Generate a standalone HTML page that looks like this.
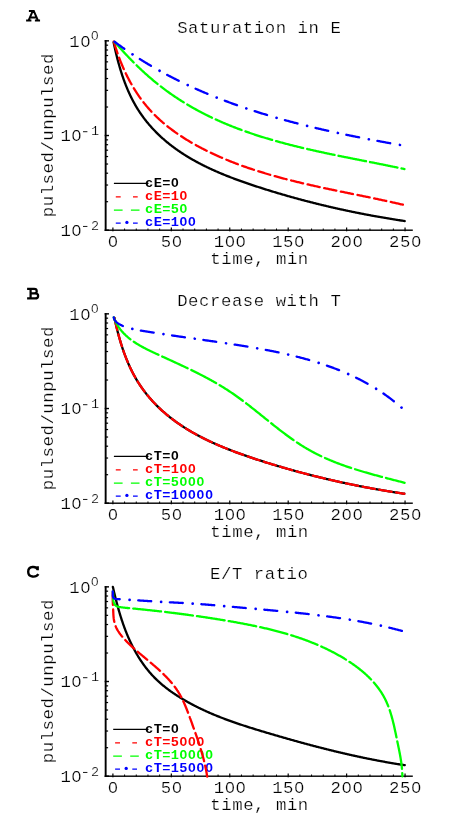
<!DOCTYPE html>
<html><head><meta charset="utf-8"><title>Figure</title>
<style>html,body{margin:0;padding:0;background:#fff;}svg{display:block;will-change:transform;}</style>
</head><body>
<svg width="463" height="834" viewBox="0 0 463 834" font-family="'Liberation Mono', monospace">
<rect width="463" height="834" fill="#fff"/>
<rect x="104.7" y="40.10" width="1.9" height="190.80" fill="#000"/>
<rect x="104.8" y="229.50" width="308.00" height="1.4" fill="#000"/>
<rect x="104.7" y="40.15" width="4.3" height="1.4" fill="#000"/>
<rect x="105" y="106.42" width="3.1" height="1.2" fill="#000"/>
<rect x="105" y="89.75" width="3.1" height="1.2" fill="#000"/>
<rect x="105" y="77.92" width="3.1" height="1.2" fill="#000"/>
<rect x="105" y="68.75" width="3.1" height="1.2" fill="#000"/>
<rect x="105" y="61.25" width="3.1" height="1.2" fill="#000"/>
<rect x="105" y="54.92" width="3.1" height="1.2" fill="#000"/>
<rect x="105" y="49.42" width="3.1" height="1.2" fill="#000"/>
<rect x="105" y="44.58" width="3.1" height="1.2" fill="#000"/>
<rect x="104.7" y="134.83" width="4.3" height="1.4" fill="#000"/>
<rect x="105" y="201.10" width="3.1" height="1.2" fill="#000"/>
<rect x="105" y="184.43" width="3.1" height="1.2" fill="#000"/>
<rect x="105" y="172.60" width="3.1" height="1.2" fill="#000"/>
<rect x="105" y="163.43" width="3.1" height="1.2" fill="#000"/>
<rect x="105" y="155.93" width="3.1" height="1.2" fill="#000"/>
<rect x="105" y="149.59" width="3.1" height="1.2" fill="#000"/>
<rect x="105" y="144.10" width="3.1" height="1.2" fill="#000"/>
<rect x="105" y="139.26" width="3.1" height="1.2" fill="#000"/>
<rect x="104.7" y="229.50" width="4.3" height="1.4" fill="#000"/>
<rect x="112.30" y="227.50" width="1.2" height="3.8" fill="#000"/>
<rect x="124.09" y="228.50" width="1.0" height="2" fill="#000"/>
<rect x="135.77" y="228.50" width="1.0" height="2" fill="#000"/>
<rect x="147.46" y="228.50" width="1.0" height="2" fill="#000"/>
<rect x="159.14" y="228.50" width="1.0" height="2" fill="#000"/>
<rect x="170.73" y="227.50" width="1.2" height="3.8" fill="#000"/>
<rect x="182.52" y="228.50" width="1.0" height="2" fill="#000"/>
<rect x="194.20" y="228.50" width="1.0" height="2" fill="#000"/>
<rect x="205.89" y="228.50" width="1.0" height="2" fill="#000"/>
<rect x="217.57" y="228.50" width="1.0" height="2" fill="#000"/>
<rect x="229.16" y="227.50" width="1.2" height="3.8" fill="#000"/>
<rect x="240.95" y="228.50" width="1.0" height="2" fill="#000"/>
<rect x="252.63" y="228.50" width="1.0" height="2" fill="#000"/>
<rect x="264.32" y="228.50" width="1.0" height="2" fill="#000"/>
<rect x="276.00" y="228.50" width="1.0" height="2" fill="#000"/>
<rect x="287.59" y="227.50" width="1.2" height="3.8" fill="#000"/>
<rect x="299.38" y="228.50" width="1.0" height="2" fill="#000"/>
<rect x="311.06" y="228.50" width="1.0" height="2" fill="#000"/>
<rect x="322.75" y="228.50" width="1.0" height="2" fill="#000"/>
<rect x="334.43" y="228.50" width="1.0" height="2" fill="#000"/>
<rect x="346.02" y="227.50" width="1.2" height="3.8" fill="#000"/>
<rect x="357.81" y="228.50" width="1.0" height="2" fill="#000"/>
<rect x="369.49" y="228.50" width="1.0" height="2" fill="#000"/>
<rect x="381.18" y="228.50" width="1.0" height="2" fill="#000"/>
<rect x="392.86" y="228.50" width="1.0" height="2" fill="#000"/>
<rect x="404.45" y="227.50" width="1.2" height="3.8" fill="#000"/>
<text transform="translate(177.15,32.70) scale(1.07,1)" font-size="16.2" letter-spacing="0.514" font-weight="normal" fill="#000" stroke="#fff" stroke-width="0.22" >Saturation in E</text>
<text transform="translate(210.30,263.60) scale(1.07,1)" font-size="16.2" letter-spacing="0.514" font-weight="normal" fill="#000" stroke="#fff" stroke-width="0.22" >time, min</text>
<g transform="translate(53.3,135.40) rotate(-90)"><text transform="translate(-81.85,0.00) scale(1.07,1)" font-size="16.2" letter-spacing="0.514" font-weight="normal" fill="#000" stroke="#fff" stroke-width="0.22" >pulsed/unpulsed</text></g>
<text transform="translate(107.80,246.60) scale(1.07,1)" font-size="16.2" letter-spacing="0.514" font-weight="normal" fill="#000" stroke="#fff" stroke-width="0.22" >0</text><ellipse cx="113.00" cy="241.26" rx="1.73" ry="2.75" fill="#fff"/>
<text transform="translate(160.75,246.60) scale(1.07,1)" font-size="16.2" letter-spacing="0.514" font-weight="normal" fill="#000" stroke="#fff" stroke-width="0.22" >50</text><ellipse cx="176.91" cy="241.26" rx="1.73" ry="2.75" fill="#fff"/>
<text transform="translate(213.71,246.60) scale(1.07,1)" font-size="16.2" letter-spacing="0.514" font-weight="normal" fill="#000" stroke="#fff" stroke-width="0.22" >100</text><ellipse cx="229.86" cy="241.26" rx="1.73" ry="2.75" fill="#fff"/><ellipse cx="240.81" cy="241.26" rx="1.73" ry="2.75" fill="#fff"/>
<text transform="translate(272.14,246.60) scale(1.07,1)" font-size="16.2" letter-spacing="0.514" font-weight="normal" fill="#000" stroke="#fff" stroke-width="0.22" >150</text><ellipse cx="299.24" cy="241.26" rx="1.73" ry="2.75" fill="#fff"/>
<text transform="translate(330.57,246.60) scale(1.07,1)" font-size="16.2" letter-spacing="0.514" font-weight="normal" fill="#000" stroke="#fff" stroke-width="0.22" >200</text><ellipse cx="346.72" cy="241.26" rx="1.73" ry="2.75" fill="#fff"/><ellipse cx="357.67" cy="241.26" rx="1.73" ry="2.75" fill="#fff"/>
<text transform="translate(389.00,246.60) scale(1.07,1)" font-size="16.2" letter-spacing="0.514" font-weight="normal" fill="#000" stroke="#fff" stroke-width="0.22" >250</text><ellipse cx="416.10" cy="241.26" rx="1.73" ry="2.75" fill="#fff"/>
<text transform="translate(69.20,46.75) scale(1.07,1)" font-size="16.2" letter-spacing="0.514" font-weight="normal" fill="#000" stroke="#fff" stroke-width="0.22" >10</text><ellipse cx="85.35" cy="41.41" rx="1.73" ry="2.75" fill="#fff"/>
<text transform="translate(94.85,40.15) scale(1.07,1)" font-size="12.6" text-anchor="middle" fill="#000" stroke="#fff" stroke-width="0.22">0</text><ellipse cx="94.85" cy="36.00" rx="1.35" ry="2.14" fill="#fff"/>
<text transform="translate(60.40,141.43) scale(1.07,1)" font-size="16.2" letter-spacing="0.514" font-weight="normal" fill="#000" stroke="#fff" stroke-width="0.22" >10</text><ellipse cx="76.55" cy="136.09" rx="1.73" ry="2.75" fill="#fff"/>
<rect x="83.0" y="131.28" width="4.4" height="0.9" fill="#000"/>
<text transform="translate(94.95,134.83) scale(1.07,1)" font-size="12.6" text-anchor="middle" fill="#000" stroke="#fff" stroke-width="0.22">1</text>
<text transform="translate(60.40,236.10) scale(1.07,1)" font-size="16.2" letter-spacing="0.514" font-weight="normal" fill="#000" stroke="#fff" stroke-width="0.22" >10</text><ellipse cx="76.55" cy="230.76" rx="1.73" ry="2.75" fill="#fff"/>
<rect x="83.0" y="225.95" width="4.4" height="0.9" fill="#000"/>
<text transform="translate(94.95,229.50) scale(1.07,1)" font-size="12.6" text-anchor="middle" fill="#000" stroke="#fff" stroke-width="0.22">2</text>
<path d="M28.9,11.0 H34.3 M32.9,10.6 L28.6,20.4 M33.5,10.4 L37.9,20.4 M26.1,20.45 H31.4 M34.9,20.45 H40.05 M30.2,17.4 H36.4" fill="none" stroke="#000" stroke-width="2.0" stroke-linejoin="round"/>
<line x1="113.9" y1="183.4" x2="148.5" y2="183.4" stroke="#000" stroke-width="1.3"/>
<path d="M115.8,196.9 h4.9 M133.0,196.9 h4.7" stroke="#ff0000" stroke-width="1.3"/>
<path d="M113.9,210.2 h8.7 M130.9,210.2 h8.6" stroke="#00ff00" stroke-width="1.3"/>
<path d="M115.8,223.1 h4.9 M133.0,223.1 h4.7" stroke="#0000ff" stroke-width="1.3"/><circle cx="126.9" cy="222.4" r="1.65" fill="#0000ff"/>
<text transform="translate(145.11,186.70) scale(1.1,1)" font-size="12.4" letter-spacing="0.333" font-weight="bold" fill="#000000"  >cE=0</text><ellipse cx="174.85" cy="182.61" rx="1.16" ry="1.98" fill="#fff"/>
<text transform="translate(145.11,199.70) scale(1.1,1)" font-size="12.4" letter-spacing="0.333" font-weight="bold" fill="#ff0000"  >cE=10</text><ellipse cx="183.40" cy="195.61" rx="1.16" ry="1.98" fill="#fff"/>
<text transform="translate(145.11,213.10) scale(1.1,1)" font-size="12.4" letter-spacing="0.333" font-weight="bold" fill="#00ff00"  >cE=50</text><ellipse cx="183.40" cy="209.01" rx="1.16" ry="1.98" fill="#fff"/>
<text transform="translate(145.11,226.30) scale(1.1,1)" font-size="12.4" letter-spacing="0.333" font-weight="bold" fill="#0000ff"  >cE=100</text><ellipse cx="183.40" cy="222.21" rx="1.16" ry="1.98" fill="#fff"/><ellipse cx="191.95" cy="222.21" rx="1.16" ry="1.98" fill="#fff"/>
<path d="M113.58,42.27 L113.64,42.59 L113.80,43.34 L113.96,44.09 L114.12,44.84 L114.28,45.58 L114.44,46.33 L114.61,47.08 L114.77,47.83 L114.94,48.57 L115.11,49.32 L115.27,50.06 L115.45,50.80 L115.62,51.55 L115.79,52.29 L115.97,53.03 L116.14,53.77 L116.32,54.51 L116.50,55.25 L116.69,55.99 L116.87,56.73 L117.06,57.46 L117.24,58.20 L117.43,58.94 L117.62,59.67 L117.82,60.40 L118.01,61.13 L118.21,61.87 L118.41,62.60 L118.61,63.33 L118.81,64.05 L119.01,64.78 L119.22,65.51 L119.43,66.23 L119.64,66.96 L119.85,67.68 L120.06,68.40 L120.28,69.12 L120.50,69.84 L120.72,70.56 L120.94,71.27 L121.16,71.99 L121.39,72.70 L121.62,73.42 L121.85,74.13 L122.08,74.84 L122.32,75.55 L122.56,76.26 L122.80,76.96 L123.04,77.67 L123.29,78.37 L123.53,79.07 L123.78,79.77 L124.04,80.47 L124.29,81.17 L124.55,81.86 L124.81,82.56 L125.07,83.25 L125.34,83.94 L125.60,84.63 L125.87,85.32 L126.15,86.00 L126.42,86.69 L126.70,87.37 L126.98,88.05 L127.26,88.73 L127.55,89.40 L127.84,90.08 L128.13,90.75 L128.42,91.42 L128.72,92.09 L129.02,92.76 L129.32,93.43 L129.63,94.09 L129.94,94.75 L130.25,95.41 L130.56,96.07 L130.88,96.73 L131.20,97.38 L131.53,98.03 L131.85,98.68 L132.18,99.33 L132.52,99.98 L132.85,100.62 L133.19,101.26 L133.53,101.90 L133.88,102.54 L134.23,103.17 L134.58,103.80 L134.93,104.43 L135.29,105.06 L135.65,105.69 L136.02,106.31 L136.39,106.93 L136.76,107.55 L137.13,108.16 L137.51,108.78 L137.89,109.39 L138.28,110.00 L138.67,110.60 L139.06,111.21 L139.45,111.81 L139.85,112.41 L140.25,113.01 L140.66,113.60 L141.07,114.19 L141.48,114.78 L141.89,115.37 L142.31,115.95 L142.73,116.53 L143.16,117.11 L143.58,117.69 L144.02,118.26 L144.45,118.84 L144.89,119.41 L145.33,119.97 L145.77,120.54 L146.21,121.10 L146.66,121.66 L147.12,122.22 L147.57,122.77 L148.03,123.33 L148.49,123.88 L148.95,124.42 L149.42,124.97 L149.89,125.51 L150.36,126.05 L150.84,126.59 L151.32,127.12 L151.80,127.66 L152.28,128.19 L152.77,128.72 L153.26,129.24 L153.75,129.76 L154.24,130.28 L154.74,130.80 L155.24,131.32 L155.74,131.83 L156.25,132.34 L156.76,132.85 L157.27,133.36 L157.78,133.86 L158.30,134.36 L158.82,134.86 L159.34,135.35 L159.86,135.85 L160.39,136.34 L160.91,136.83 L161.45,137.31 L161.98,137.80 L162.51,138.28 L163.05,138.75 L163.59,139.23 L164.14,139.70 L164.68,140.18 L165.23,140.64 L165.78,141.11 L166.33,141.57 L166.88,142.03 L167.44,142.49 L168.00,142.95 L168.56,143.40 L169.12,143.85 L169.69,144.30 L170.26,144.75 L170.82,145.19 L171.40,145.63 L171.97,146.07 L172.55,146.51 L173.12,146.94 L173.70,147.37 L174.29,147.80 L174.87,148.23 L175.46,148.65 L176.04,149.08 L176.63,149.50 L177.23,149.91 L177.82,150.33 L178.41,150.74 L179.01,151.15 L179.61,151.56 L180.21,151.97 L180.82,152.37 L181.42,152.77 L182.03,153.17 L182.64,153.57 L183.25,153.96 L183.86,154.36 L184.48,154.75 L185.09,155.14 L185.71,155.52 L186.33,155.91 L186.95,156.29 L187.57,156.67 L188.20,157.05 L188.83,157.42 L189.45,157.80 L190.08,158.17 L190.72,158.54 L191.35,158.91 L191.98,159.27 L192.62,159.63 L193.26,160.00 L193.90,160.36 L194.54,160.71 L195.18,161.07 L195.82,161.42 L196.47,161.78 L197.12,162.13 L197.77,162.47 L198.42,162.82 L199.07,163.16 L199.72,163.51 L200.37,163.85 L201.03,164.19 L201.69,164.52 L202.35,164.86 L203.01,165.19 L203.67,165.52 L204.33,165.85 L204.99,166.18 L205.66,166.51 L206.33,166.83 L206.99,167.16 L207.66,167.48 L208.33,167.80 L209.00,168.12 L209.68,168.43 L210.35,168.75 L211.03,169.06 L211.70,169.37 L212.38,169.68 L213.06,169.99 L213.74,170.30 L214.42,170.60 L215.10,170.91 L215.78,171.21 L216.47,171.51 L217.15,171.81 L217.84,172.10 L218.53,172.40 L219.21,172.69 L219.90,172.99 L220.59,173.28 L221.29,173.57 L221.98,173.86 L222.67,174.15 L223.36,174.43 L224.06,174.72 L224.76,175.00 L225.45,175.28 L226.15,175.56 L226.85,175.84 L227.55,176.12 L228.25,176.39 L228.95,176.67 L229.65,176.94 L230.35,177.22 L231.05,177.49 L231.76,177.76 L232.46,178.03 L233.17,178.30 L233.87,178.56 L234.58,178.83 L235.29,179.09 L236.00,179.35 L236.71,179.62 L237.41,179.88 L238.12,180.14 L238.83,180.39 L239.55,180.65 L240.26,180.91 L240.97,181.16 L241.68,181.42 L242.40,181.67 L243.11,181.92 L243.82,182.17 L244.54,182.42 L245.25,182.67 L245.97,182.92 L246.69,183.17 L247.40,183.41 L248.12,183.66 L248.84,183.90 L249.55,184.15 L250.27,184.39 L250.99,184.63 L251.71,184.87 L252.43,185.11 L253.15,185.35 L253.87,185.59 L254.59,185.83 L255.31,186.06 L256.03,186.30 L256.75,186.54 L257.47,186.77 L258.19,187.00 L258.91,187.24 L259.63,187.47 L260.35,187.70 L261.07,187.93 L261.80,188.16 L262.52,188.39 L263.24,188.62 L263.96,188.85 L264.69,189.08 L265.41,189.30 L266.13,189.53 L266.85,189.76 L267.58,189.98 L268.30,190.21 L269.02,190.43 L269.75,190.65 L270.47,190.88 L271.19,191.10 L271.92,191.32 L272.64,191.54 L273.36,191.76 L274.09,191.98 L274.81,192.20 L275.54,192.42 L276.26,192.63 L276.98,192.85 L277.71,193.07 L278.43,193.28 L279.16,193.50 L279.88,193.71 L280.61,193.92 L281.33,194.14 L282.06,194.35 L282.79,194.56 L283.51,194.77 L284.24,194.98 L284.96,195.19 L285.69,195.40 L286.42,195.61 L287.14,195.81 L287.87,196.02 L288.59,196.23 L289.32,196.43 L290.05,196.64 L290.77,196.84 L291.50,197.05 L292.23,197.25 L292.96,197.45 L293.68,197.65 L294.41,197.85 L295.14,198.06 L295.87,198.26 L296.59,198.45 L297.32,198.65 L298.05,198.85 L298.78,199.05 L299.51,199.25 L300.24,199.44 L300.96,199.64 L301.69,199.83 L302.42,200.03 L303.15,200.22 L303.88,200.41 L304.61,200.60 L305.34,200.80 L306.07,200.99 L306.80,201.18 L307.53,201.37 L308.26,201.56 L308.99,201.74 L309.72,201.93 L310.45,202.12 L311.18,202.31 L311.91,202.49 L312.64,202.68 L313.37,202.86 L314.10,203.05 L314.83,203.23 L315.56,203.41 L316.29,203.59 L317.02,203.78 L317.75,203.96 L318.49,204.14 L319.22,204.32 L319.95,204.50 L320.68,204.67 L321.41,204.85 L322.14,205.03 L322.88,205.21 L323.61,205.38 L324.34,205.56 L325.07,205.73 L325.81,205.91 L326.54,206.08 L327.27,206.25 L328.00,206.42 L328.74,206.60 L329.47,206.77 L330.20,206.94 L330.94,207.11 L331.67,207.28 L332.40,207.44 L333.14,207.61 L333.87,207.78 L334.60,207.95 L335.34,208.11 L336.07,208.28 L336.80,208.44 L337.54,208.61 L338.27,208.77 L339.01,208.93 L339.74,209.10 L340.48,209.26 L341.21,209.42 L341.95,209.58 L342.68,209.74 L343.42,209.90 L344.15,210.06 L344.89,210.21 L345.62,210.37 L346.36,210.53 L347.09,210.69 L347.83,210.84 L348.56,211.00 L349.30,211.15 L350.03,211.30 L350.77,211.46 L351.51,211.61 L352.24,211.76 L352.98,211.91 L353.71,212.06 L354.45,212.21 L355.19,212.36 L355.92,212.51 L356.66,212.66 L357.40,212.81 L358.13,212.96 L358.87,213.10 L359.61,213.25 L360.35,213.40 L361.08,213.54 L361.82,213.68 L362.56,213.83 L363.30,213.97 L364.03,214.11 L364.77,214.26 L365.51,214.40 L366.25,214.54 L366.98,214.68 L367.72,214.82 L368.46,214.96 L369.20,215.09 L369.94,215.23 L370.68,215.37 L371.41,215.51 L372.15,215.64 L372.89,215.78 L373.63,215.91 L374.37,216.05 L375.11,216.18 L375.85,216.31 L376.59,216.44 L377.33,216.58 L378.06,216.71 L378.80,216.84 L379.54,216.97 L380.28,217.10 L381.02,217.23 L381.76,217.35 L382.50,217.48 L383.24,217.61 L383.98,217.74 L384.72,217.86 L385.46,217.99 L386.20,218.11 L386.94,218.24 L387.68,218.36 L388.42,218.48 L389.16,218.61 L389.91,218.73 L390.65,218.85 L391.39,218.97 L392.13,219.09 L392.87,219.21 L393.61,219.33 L394.35,219.45 L395.09,219.56 L395.83,219.68 L396.57,219.80 L397.32,219.91 L398.06,220.03 L398.80,220.15 L399.54,220.26 L400.28,220.37 L401.02,220.49 L401.77,220.60 L402.51,220.71 L403.25,220.82 L403.99,220.93 L404.73,221.04" fill="none" stroke="#000000" stroke-linecap="round" stroke-linejoin="round" stroke-width="2.3"/>
<path d="M113.80,41.52 L114.00,42.20 L114.25,43.07 L114.51,43.94 L114.77,44.80 L115.03,45.67 L115.30,46.54 L115.57,47.40 L115.84,48.26 L116.12,49.13 L116.41,49.99 L116.69,50.85 L116.98,51.70 L117.27,52.56 L117.57,53.42 L117.87,54.27 L118.17,55.12 L118.48,55.97 L118.79,56.82 L119.11,57.67 L119.43,58.52 L119.75,59.36 L120.08,60.21 L120.41,61.05 L120.74,61.89 L121.08,62.73 L121.42,63.56 L121.76,64.40 L122.11,65.23 L122.46,66.06 L122.82,66.89 L123.18,67.72 L123.54,68.54 L123.91,69.36 L124.28,70.19 L124.66,71.00 L125.04,71.82 L125.42,72.63 L125.80,73.45 L126.20,74.26 L126.59,75.06 L126.99,75.87 L127.39,76.67 L127.80,77.47 L128.21,78.27 L128.62,79.06 L129.04,79.86 L129.46,80.64 L129.89,81.43 L130.32,82.22 L130.75,83.00 L131.19,83.78 L131.63,84.55 L132.07,85.33 L132.52,86.10 L132.98,86.87 L133.44,87.63 L133.90,88.39 L134.36,89.15 L134.83,89.91 L135.31,90.66 L135.78,91.41 L136.27,92.16 L136.75,92.90 L137.24,93.64 L137.74,94.38 L138.24,95.11 L138.74,95.84 L139.24,96.57 L139.75,97.29 L140.27,98.01 L140.79,98.73 L141.31,99.44 L141.84,100.15 L142.37,100.86 L142.91,101.56 L143.45,102.26 L143.99,102.95 L144.54,103.64 L145.09,104.33 L145.65,105.01 L146.21,105.69 L146.78,106.37 L147.35,107.04 L147.92,107.71 L148.50,108.37 L149.08,109.03 L149.67,109.69 L150.26,110.34 L150.85,110.99 L151.45,111.63 L152.06,112.27 L152.66,112.91 L153.27,113.54 L153.89,114.17 L154.51,114.79 L155.13,115.41 L155.76,116.03 L156.39,116.64 L157.02,117.25 L157.66,117.86 L158.30,118.46 L158.95,119.06 L159.60,119.65 L160.25,120.24 L160.91,120.83 L161.57,121.41 L162.23,121.99 L162.90,122.57 L163.57,123.14 L164.24,123.71 L164.92,124.27 L165.60,124.84 L166.28,125.39 L166.97,125.95 L167.66,126.50 L168.35,127.05 L169.04,127.59 L169.74,128.13 L170.44,128.67 L171.15,129.20 L171.86,129.73 L172.57,130.26 L173.28,130.78 L173.99,131.30 L174.71,131.82 L175.43,132.34 L176.16,132.85 L176.88,133.35 L177.61,133.86 L178.34,134.36 L179.08,134.86 L179.81,135.35 L180.55,135.84 L181.29,136.33 L182.04,136.82 L182.78,137.30 L183.53,137.78 L184.28,138.26 L185.03,138.73 L185.79,139.20 L186.54,139.67 L187.30,140.13 L188.06,140.59 L188.83,141.05 L189.59,141.51 L190.36,141.96 L191.12,142.41 L191.89,142.86 L192.67,143.30 L193.44,143.74 L194.21,144.18 L194.99,144.62 L195.77,145.05 L196.55,145.48 L197.33,145.91 L198.11,146.33 L198.90,146.75 L199.68,147.17 L200.47,147.59 L201.26,148.00 L202.05,148.41 L202.84,148.82 L203.63,149.23 L204.42,149.63 L205.22,150.04 L206.01,150.43 L206.81,150.83 L207.61,151.23 L208.40,151.62 L209.20,152.01 L210.00,152.39 L210.81,152.78 L211.61,153.16 L212.41,153.54 L213.22,153.91 L214.02,154.29 L214.83,154.66 L215.64,155.03 L216.45,155.40 L217.25,155.76 L218.07,156.13 L218.88,156.49 L219.69,156.85 L220.50,157.20 L221.32,157.56 L222.13,157.91 L222.95,158.26 L223.77,158.60 L224.59,158.95 L225.40,159.29 L226.22,159.63 L227.05,159.97 L227.87,160.31 L228.69,160.64 L229.51,160.98 L230.34,161.31 L231.16,161.63 L231.99,161.96 L232.82,162.28 L233.64,162.61 L234.47,162.93 L235.30,163.25 L236.13,163.56 L236.96,163.88 L237.80,164.19 L238.63,164.50 L239.46,164.81 L240.30,165.11 L241.13,165.42 L241.97,165.72 L242.80,166.02 L243.64,166.32 L244.48,166.62 L245.32,166.91 L246.16,167.20 L247.00,167.50 L247.84,167.79 L248.68,168.07 L249.52,168.36 L250.37,168.65 L251.21,168.93 L252.05,169.21 L252.90,169.49 L253.74,169.77 L254.59,170.04 L255.44,170.32 L256.29,170.59 L257.13,170.86 L257.98,171.13 L258.83,171.40 L259.68,171.66 L260.53,171.93 L261.38,172.19 L262.24,172.45 L263.09,172.71 L263.94,172.97 L264.80,173.23 L265.65,173.49 L266.50,173.74 L267.36,173.99 L268.22,174.24 L269.07,174.49 L269.93,174.74 L270.79,174.99 L271.64,175.23 L272.50,175.48 L273.36,175.72 L274.22,175.96 L275.08,176.20 L275.94,176.44 L276.80,176.68 L277.66,176.92 L278.52,177.15 L279.39,177.38 L280.25,177.62 L281.11,177.85 L281.97,178.08 L282.84,178.31 L283.70,178.53 L284.57,178.76 L285.43,178.99 L286.30,179.21 L287.16,179.43 L288.03,179.65 L288.90,179.88 L289.76,180.10 L290.63,180.31 L291.50,180.53 L292.36,180.75 L293.23,180.96 L294.10,181.18 L294.97,181.39 L295.84,181.60 L296.71,181.82 L297.58,182.03 L298.45,182.24 L299.32,182.44 L300.19,182.65 L301.06,182.86 L301.93,183.06 L302.80,183.27 L303.67,183.47 L304.54,183.68 L305.42,183.88 L306.29,184.08 L307.16,184.28 L308.03,184.48 L308.91,184.68 L309.78,184.88 L310.65,185.08 L311.52,185.27 L312.40,185.47 L313.27,185.67 L314.14,185.86 L315.02,186.05 L315.89,186.25 L316.77,186.44 L317.64,186.63 L318.51,186.82 L319.39,187.02 L320.26,187.21 L321.14,187.40 L322.01,187.58 L322.89,187.77 L323.76,187.96 L324.64,188.15 L325.51,188.34 L326.39,188.52 L327.26,188.71 L328.14,188.89 L329.01,189.08 L329.89,189.26 L330.76,189.45 L331.64,189.63 L332.51,189.82 L333.39,190.00 L334.26,190.18 L335.14,190.36 L336.01,190.55 L336.88,190.73 L337.76,190.91 L338.63,191.09 L339.51,191.27 L340.38,191.45 L341.26,191.63 L342.13,191.81 L343.01,191.99 L343.88,192.17 L344.75,192.35 L345.63,192.53 L346.50,192.71 L347.38,192.89 L348.25,193.07 L349.12,193.25 L350.00,193.42 L350.87,193.60 L351.74,193.78 L352.61,193.96 L353.49,194.14 L354.36,194.32 L355.23,194.49 L356.10,194.67 L356.97,194.85 L357.85,195.03 L358.72,195.21 L359.59,195.38 L360.46,195.56 L361.33,195.74 L362.20,195.92 L363.07,196.10 L363.94,196.28 L364.81,196.45 L365.68,196.63 L366.55,196.81 L367.41,196.99 L368.28,197.17 L369.15,197.35 L370.02,197.53 L370.89,197.71 L371.75,197.89 L372.62,198.07 L373.49,198.25 L374.35,198.43 L375.22,198.61 L376.08,198.79 L376.95,198.98 L377.81,199.16 L378.67,199.34 L379.54,199.52 L380.40,199.71 L381.26,199.89 L382.13,200.08 L382.99,200.26 L383.85,200.44 L384.71,200.63 L385.57,200.82 L386.43,201.00 L387.29,201.19 L388.15,201.38 L389.01,201.56 L389.86,201.75 L390.72,201.94 L391.58,202.13 L392.43,202.32 L393.29,202.51 L394.15,202.70 L395.00,202.90 L395.86,203.09 L396.71,203.28 L397.56,203.47 L398.41,203.67 L399.27,203.86 L400.12,204.06 L400.97,204.26 L401.82,204.45 L402.67,204.65 L403.52,204.85 L404.37,205.05" fill="none" stroke="#ff0000" stroke-linecap="round" stroke-linejoin="round" stroke-width="2.3" stroke-dasharray="12.4 4.6"/>
<path d="M114.71,41.88 L114.87,42.06 L115.40,42.69 L115.94,43.31 L116.48,43.93 L117.01,44.55 L117.55,45.16 L118.09,45.78 L118.64,46.40 L119.18,47.01 L119.72,47.63 L120.27,48.24 L120.82,48.85 L121.37,49.46 L121.92,50.07 L122.47,50.68 L123.02,51.28 L123.57,51.89 L124.13,52.49 L124.69,53.10 L125.24,53.70 L125.80,54.30 L126.36,54.90 L126.93,55.49 L127.49,56.09 L128.05,56.69 L128.62,57.28 L129.19,57.87 L129.76,58.46 L130.33,59.05 L130.90,59.64 L131.47,60.23 L132.05,60.81 L132.63,61.40 L133.20,61.98 L133.78,62.56 L134.36,63.14 L134.94,63.72 L135.53,64.29 L136.11,64.87 L136.70,65.44 L137.29,66.01 L137.88,66.58 L138.47,67.15 L139.06,67.72 L139.65,68.29 L140.25,68.85 L140.84,69.41 L141.44,69.97 L142.04,70.53 L142.64,71.09 L143.24,71.64 L143.85,72.20 L144.45,72.75 L145.06,73.30 L145.67,73.85 L146.28,74.39 L146.89,74.94 L147.50,75.48 L148.12,76.02 L148.73,76.56 L149.35,77.10 L149.97,77.63 L150.59,78.17 L151.21,78.70 L151.83,79.23 L152.46,79.75 L153.08,80.28 L153.71,80.80 L154.34,81.33 L154.97,81.84 L155.61,82.36 L156.24,82.88 L156.88,83.39 L157.51,83.90 L158.15,84.41 L158.79,84.92 L159.43,85.43 L160.08,85.93 L160.72,86.43 L161.37,86.93 L162.02,87.43 L162.67,87.92 L163.32,88.41 L163.97,88.90 L164.62,89.39 L165.28,89.88 L165.94,90.36 L166.60,90.85 L167.26,91.33 L167.92,91.80 L168.58,92.28 L169.25,92.75 L169.91,93.23 L170.58,93.70 L171.25,94.16 L171.92,94.63 L172.59,95.09 L173.26,95.55 L173.94,96.01 L174.61,96.47 L175.29,96.92 L175.97,97.38 L176.65,97.83 L177.33,98.28 L178.01,98.72 L178.69,99.17 L179.38,99.61 L180.07,100.05 L180.75,100.49 L181.44,100.93 L182.13,101.36 L182.82,101.79 L183.52,102.22 L184.21,102.65 L184.90,103.08 L185.60,103.50 L186.30,103.92 L187.00,104.34 L187.70,104.76 L188.40,105.18 L189.10,105.59 L189.80,106.00 L190.51,106.41 L191.21,106.82 L191.92,107.23 L192.63,107.63 L193.34,108.03 L194.05,108.43 L194.76,108.83 L195.47,109.22 L196.19,109.62 L196.90,110.01 L197.62,110.40 L198.33,110.78 L199.05,111.17 L199.77,111.55 L200.49,111.93 L201.21,112.31 L201.93,112.69 L202.65,113.06 L203.38,113.44 L204.10,113.81 L204.83,114.18 L205.56,114.54 L206.28,114.91 L207.01,115.27 L207.74,115.63 L208.47,115.99 L209.20,116.35 L209.94,116.70 L210.67,117.06 L211.40,117.41 L212.14,117.76 L212.88,118.11 L213.61,118.45 L214.35,118.79 L215.09,119.14 L215.83,119.48 L216.57,119.81 L217.31,120.15 L218.05,120.48 L218.80,120.82 L219.54,121.15 L220.29,121.48 L221.03,121.80 L221.78,122.13 L222.52,122.45 L223.27,122.77 L224.02,123.09 L224.77,123.41 L225.52,123.73 L226.27,124.04 L227.03,124.35 L227.78,124.66 L228.53,124.97 L229.29,125.28 L230.04,125.59 L230.80,125.89 L231.56,126.19 L232.31,126.50 L233.07,126.79 L233.83,127.09 L234.59,127.39 L235.35,127.68 L236.11,127.97 L236.88,128.27 L237.64,128.56 L238.40,128.84 L239.17,129.13 L239.93,129.41 L240.70,129.70 L241.46,129.98 L242.23,130.26 L243.00,130.54 L243.76,130.81 L244.53,131.09 L245.30,131.36 L246.07,131.64 L246.84,131.91 L247.62,132.18 L248.39,132.44 L249.16,132.71 L249.93,132.98 L250.71,133.24 L251.48,133.50 L252.26,133.76 L253.03,134.02 L253.81,134.28 L254.59,134.54 L255.36,134.79 L256.14,135.05 L256.92,135.30 L257.70,135.55 L258.48,135.80 L259.26,136.05 L260.04,136.30 L260.82,136.54 L261.61,136.79 L262.39,137.03 L263.17,137.27 L263.95,137.51 L264.74,137.75 L265.52,137.99 L266.31,138.23 L267.09,138.46 L267.88,138.70 L268.67,138.93 L269.45,139.16 L270.24,139.40 L271.03,139.63 L271.82,139.85 L272.61,140.08 L273.39,140.31 L274.18,140.53 L274.97,140.76 L275.77,140.98 L276.56,141.20 L277.35,141.42 L278.14,141.64 L278.93,141.86 L279.72,142.08 L280.52,142.29 L281.31,142.51 L282.10,142.72 L282.90,142.94 L283.69,143.15 L284.49,143.36 L285.28,143.57 L286.08,143.78 L286.87,143.99 L287.67,144.20 L288.47,144.40 L289.26,144.61 L290.06,144.81 L290.86,145.01 L291.66,145.22 L292.45,145.42 L293.25,145.62 L294.05,145.82 L294.85,146.02 L295.65,146.22 L296.45,146.41 L297.25,146.61 L298.05,146.80 L298.85,147.00 L299.65,147.19 L300.45,147.39 L301.25,147.58 L302.05,147.77 L302.86,147.96 L303.66,148.15 L304.46,148.34 L305.26,148.53 L306.06,148.71 L306.87,148.90 L307.67,149.09 L308.47,149.27 L309.28,149.46 L310.08,149.64 L310.88,149.82 L311.69,150.00 L312.49,150.19 L313.29,150.37 L314.10,150.55 L314.90,150.73 L315.71,150.91 L316.51,151.08 L317.32,151.26 L318.12,151.44 L318.93,151.62 L319.73,151.79 L320.54,151.97 L321.34,152.14 L322.15,152.32 L322.95,152.49 L323.76,152.66 L324.56,152.84 L325.37,153.01 L326.17,153.18 L326.98,153.35 L327.79,153.52 L328.59,153.69 L329.40,153.86 L330.20,154.03 L331.01,154.20 L331.82,154.37 L332.62,154.53 L333.43,154.70 L334.23,154.87 L335.04,155.04 L335.84,155.20 L336.65,155.37 L337.46,155.53 L338.26,155.70 L339.07,155.86 L339.87,156.03 L340.68,156.19 L341.49,156.35 L342.29,156.52 L343.10,156.68 L343.90,156.84 L344.71,157.01 L345.51,157.17 L346.32,157.33 L347.12,157.49 L347.93,157.65 L348.73,157.81 L349.54,157.97 L350.34,158.14 L351.15,158.30 L351.95,158.46 L352.76,158.62 L353.56,158.78 L354.36,158.94 L355.17,159.09 L355.97,159.25 L356.77,159.41 L357.58,159.57 L358.38,159.73 L359.18,159.89 L359.99,160.05 L360.79,160.21 L361.59,160.37 L362.39,160.52 L363.20,160.68 L364.00,160.84 L364.80,161.00 L365.60,161.16 L366.40,161.32 L367.20,161.47 L368.00,161.63 L368.80,161.79 L369.60,161.95 L370.40,162.11 L371.20,162.26 L372.00,162.42 L372.80,162.58 L373.60,162.74 L374.40,162.90 L375.20,163.06 L375.99,163.22 L376.79,163.37 L377.59,163.53 L378.39,163.69 L379.18,163.85 L379.98,164.01 L380.77,164.17 L381.57,164.33 L382.37,164.49 L383.16,164.65 L383.95,164.81 L384.75,164.97 L385.54,165.13 L386.34,165.29 L387.13,165.45 L387.92,165.61 L388.71,165.77 L389.50,165.93 L390.30,166.10 L391.09,166.26 L391.88,166.42 L392.67,166.58 L393.46,166.75 L394.25,166.91 L395.04,167.07 L395.82,167.24 L396.61,167.40 L397.40,167.56 L398.19,167.73 L398.97,167.89 L399.76,168.06 L400.54,168.23 L401.33,168.39 L402.11,168.56 L402.90,168.73 L403.68,168.89 L404.46,169.06" fill="none" stroke="#00ff00" stroke-linecap="round" stroke-linejoin="round" stroke-width="2.3" stroke-dasharray="28.0 4.1"/>
<path d="M114.42,41.67 L114.58,41.78 L115.22,42.26 L115.86,42.73 L116.50,43.20 L117.14,43.67 L117.78,44.14 L118.43,44.61 L119.07,45.07 L119.72,45.54 L120.36,46.00 L121.01,46.46 L121.66,46.92 L122.30,47.38 L122.95,47.83 L123.60,48.29 L124.25,48.74 L124.90,49.20 L125.56,49.65 L126.21,50.10 L126.86,50.55 L127.51,50.99 L128.17,51.44 L128.82,51.88 L129.48,52.32 L130.14,52.76 L130.79,53.20 L131.45,53.64 L132.11,54.08 L132.77,54.51 L133.43,54.95 L134.09,55.38 L134.75,55.81 L135.42,56.24 L136.08,56.67 L136.74,57.10 L137.41,57.52 L138.07,57.95 L138.74,58.37 L139.40,58.79 L140.07,59.21 L140.74,59.63 L141.41,60.05 L142.08,60.46 L142.75,60.88 L143.42,61.29 L144.09,61.70 L144.76,62.11 L145.43,62.52 L146.10,62.93 L146.78,63.33 L147.45,63.74 L148.13,64.14 L148.80,64.55 L149.48,64.95 L150.16,65.35 L150.83,65.75 L151.51,66.14 L152.19,66.54 L152.87,66.93 L153.55,67.33 L154.23,67.72 L154.91,68.11 L155.60,68.50 L156.28,68.89 L156.96,69.27 L157.65,69.66 L158.33,70.04 L159.02,70.42 L159.70,70.81 L160.39,71.19 L161.07,71.57 L161.76,71.94 L162.45,72.32 L163.14,72.69 L163.83,73.07 L164.52,73.44 L165.21,73.81 L165.90,74.18 L166.59,74.55 L167.29,74.92 L167.98,75.29 L168.67,75.65 L169.37,76.01 L170.06,76.38 L170.76,76.74 L171.45,77.10 L172.15,77.46 L172.85,77.82 L173.54,78.17 L174.24,78.53 L174.94,78.88 L175.64,79.23 L176.34,79.59 L177.04,79.94 L177.74,80.29 L178.44,80.63 L179.15,80.98 L179.85,81.33 L180.55,81.67 L181.26,82.02 L181.96,82.36 L182.66,82.70 L183.37,83.04 L184.08,83.38 L184.78,83.71 L185.49,84.05 L186.20,84.39 L186.90,84.72 L187.61,85.05 L188.32,85.39 L189.03,85.72 L189.74,86.05 L190.45,86.37 L191.16,86.70 L191.88,87.03 L192.59,87.35 L193.30,87.68 L194.01,88.00 L194.73,88.32 L195.44,88.64 L196.16,88.96 L196.87,89.28 L197.59,89.59 L198.30,89.91 L199.02,90.23 L199.74,90.54 L200.46,90.85 L201.17,91.16 L201.89,91.47 L202.61,91.78 L203.33,92.09 L204.05,92.40 L204.77,92.71 L205.49,93.01 L206.22,93.31 L206.94,93.62 L207.66,93.92 L208.38,94.22 L209.11,94.52 L209.83,94.82 L210.55,95.12 L211.28,95.41 L212.00,95.71 L212.73,96.00 L213.46,96.30 L214.18,96.59 L214.91,96.88 L215.64,97.17 L216.37,97.46 L217.09,97.75 L217.82,98.04 L218.55,98.32 L219.28,98.61 L220.01,98.89 L220.74,99.17 L221.47,99.46 L222.20,99.74 L222.94,100.02 L223.67,100.30 L224.40,100.58 L225.13,100.85 L225.87,101.13 L226.60,101.41 L227.33,101.68 L228.07,101.95 L228.80,102.23 L229.54,102.50 L230.28,102.77 L231.01,103.04 L231.75,103.31 L232.48,103.57 L233.22,103.84 L233.96,104.11 L234.70,104.37 L235.44,104.63 L236.18,104.90 L236.91,105.16 L237.65,105.42 L238.39,105.68 L239.13,105.94 L239.88,106.20 L240.62,106.46 L241.36,106.71 L242.10,106.97 L242.84,107.22 L243.58,107.48 L244.33,107.73 L245.07,107.98 L245.81,108.23 L246.56,108.48 L247.30,108.73 L248.05,108.98 L248.79,109.23 L249.54,109.47 L250.28,109.72 L251.03,109.96 L251.78,110.21 L252.52,110.45 L253.27,110.69 L254.02,110.93 L254.76,111.17 L255.51,111.41 L256.26,111.65 L257.01,111.89 L257.76,112.13 L258.51,112.36 L259.26,112.60 L260.01,112.83 L260.76,113.07 L261.51,113.30 L262.26,113.53 L263.01,113.76 L263.76,113.99 L264.51,114.22 L265.26,114.45 L266.02,114.68 L266.77,114.91 L267.52,115.13 L268.27,115.36 L269.03,115.58 L269.78,115.81 L270.54,116.03 L271.29,116.25 L272.04,116.47 L272.80,116.70 L273.55,116.92 L274.31,117.13 L275.06,117.35 L275.82,117.57 L276.58,117.79 L277.33,118.00 L278.09,118.22 L278.85,118.43 L279.60,118.65 L280.36,118.86 L281.12,119.07 L281.88,119.29 L282.63,119.50 L283.39,119.71 L284.15,119.92 L284.91,120.12 L285.67,120.33 L286.43,120.54 L287.19,120.75 L287.95,120.95 L288.71,121.16 L289.47,121.36 L290.23,121.57 L290.99,121.77 L291.75,121.97 L292.51,122.17 L293.27,122.37 L294.03,122.57 L294.79,122.77 L295.56,122.97 L296.32,123.17 L297.08,123.37 L297.84,123.56 L298.60,123.76 L299.37,123.96 L300.13,124.15 L300.89,124.34 L301.66,124.54 L302.42,124.73 L303.18,124.92 L303.95,125.11 L304.71,125.31 L305.48,125.50 L306.24,125.68 L307.01,125.87 L307.77,126.06 L308.54,126.25 L309.30,126.44 L310.07,126.62 L310.83,126.81 L311.60,126.99 L312.36,127.18 L313.13,127.36 L313.89,127.55 L314.66,127.73 L315.43,127.91 L316.19,128.09 L316.96,128.27 L317.73,128.45 L318.49,128.63 L319.26,128.81 L320.03,128.99 L320.80,129.17 L321.56,129.35 L322.33,129.52 L323.10,129.70 L323.87,129.87 L324.63,130.05 L325.40,130.22 L326.17,130.40 L326.94,130.57 L327.71,130.74 L328.48,130.92 L329.24,131.09 L330.01,131.26 L330.78,131.43 L331.55,131.60 L332.32,131.77 L333.09,131.94 L333.86,132.11 L334.63,132.28 L335.40,132.44 L336.17,132.61 L336.94,132.78 L337.71,132.94 L338.47,133.11 L339.24,133.27 L340.01,133.44 L340.78,133.60 L341.55,133.77 L342.32,133.93 L343.09,134.09 L343.87,134.25 L344.64,134.41 L345.41,134.58 L346.18,134.74 L346.95,134.90 L347.72,135.06 L348.49,135.22 L349.26,135.37 L350.03,135.53 L350.80,135.69 L351.57,135.85 L352.34,136.00 L353.11,136.16 L353.88,136.32 L354.65,136.47 L355.42,136.63 L356.20,136.78 L356.97,136.94 L357.74,137.09 L358.51,137.24 L359.28,137.40 L360.05,137.55 L360.82,137.70 L361.59,137.85 L362.36,138.00 L363.14,138.16 L363.91,138.31 L364.68,138.46 L365.45,138.61 L366.22,138.76 L366.99,138.90 L367.76,139.05 L368.53,139.20 L369.30,139.35 L370.08,139.50 L370.85,139.64 L371.62,139.79 L372.39,139.94 L373.16,140.08 L373.93,140.23 L374.70,140.37 L375.47,140.52 L376.24,140.66 L377.01,140.81 L377.79,140.95 L378.56,141.09 L379.33,141.24 L380.10,141.38 L380.87,141.52 L381.64,141.66 L382.41,141.81 L383.18,141.95 L383.95,142.09 L384.72,142.23 L385.49,142.37 L386.26,142.51 L387.03,142.65 L387.80,142.79 L388.57,142.93 L389.34,143.07 L390.11,143.21 L390.88,143.35 L391.65,143.48 L392.42,143.62 L393.19,143.76 L393.96,143.90 L394.73,144.03 L395.50,144.17 L396.27,144.31 L397.04,144.44 L397.81,144.58 L398.58,144.72 L399.35,144.85 L400.12,144.99 L400.89,145.12 L401.65,145.26 L402.42,145.39 L403.19,145.53 L403.96,145.66 L404.73,145.79" fill="none" stroke="#0000ff" stroke-linecap="round" stroke-linejoin="round" stroke-width="2.3" stroke-dasharray="13.0 18.6" stroke-dashoffset="0.8"/><path d="M114.42,41.67 L114.58,41.78 L115.22,42.26 L115.86,42.73 L116.50,43.20 L117.14,43.67 L117.78,44.14 L118.43,44.61 L119.07,45.07 L119.72,45.54 L120.36,46.00 L121.01,46.46 L121.66,46.92 L122.30,47.38 L122.95,47.83 L123.60,48.29 L124.25,48.74 L124.90,49.20 L125.56,49.65 L126.21,50.10 L126.86,50.55 L127.51,50.99 L128.17,51.44 L128.82,51.88 L129.48,52.32 L130.14,52.76 L130.79,53.20 L131.45,53.64 L132.11,54.08 L132.77,54.51 L133.43,54.95 L134.09,55.38 L134.75,55.81 L135.42,56.24 L136.08,56.67 L136.74,57.10 L137.41,57.52 L138.07,57.95 L138.74,58.37 L139.40,58.79 L140.07,59.21 L140.74,59.63 L141.41,60.05 L142.08,60.46 L142.75,60.88 L143.42,61.29 L144.09,61.70 L144.76,62.11 L145.43,62.52 L146.10,62.93 L146.78,63.33 L147.45,63.74 L148.13,64.14 L148.80,64.55 L149.48,64.95 L150.16,65.35 L150.83,65.75 L151.51,66.14 L152.19,66.54 L152.87,66.93 L153.55,67.33 L154.23,67.72 L154.91,68.11 L155.60,68.50 L156.28,68.89 L156.96,69.27 L157.65,69.66 L158.33,70.04 L159.02,70.42 L159.70,70.81 L160.39,71.19 L161.07,71.57 L161.76,71.94 L162.45,72.32 L163.14,72.69 L163.83,73.07 L164.52,73.44 L165.21,73.81 L165.90,74.18 L166.59,74.55 L167.29,74.92 L167.98,75.29 L168.67,75.65 L169.37,76.01 L170.06,76.38 L170.76,76.74 L171.45,77.10 L172.15,77.46 L172.85,77.82 L173.54,78.17 L174.24,78.53 L174.94,78.88 L175.64,79.23 L176.34,79.59 L177.04,79.94 L177.74,80.29 L178.44,80.63 L179.15,80.98 L179.85,81.33 L180.55,81.67 L181.26,82.02 L181.96,82.36 L182.66,82.70 L183.37,83.04 L184.08,83.38 L184.78,83.71 L185.49,84.05 L186.20,84.39 L186.90,84.72 L187.61,85.05 L188.32,85.39 L189.03,85.72 L189.74,86.05 L190.45,86.37 L191.16,86.70 L191.88,87.03 L192.59,87.35 L193.30,87.68 L194.01,88.00 L194.73,88.32 L195.44,88.64 L196.16,88.96 L196.87,89.28 L197.59,89.59 L198.30,89.91 L199.02,90.23 L199.74,90.54 L200.46,90.85 L201.17,91.16 L201.89,91.47 L202.61,91.78 L203.33,92.09 L204.05,92.40 L204.77,92.71 L205.49,93.01 L206.22,93.31 L206.94,93.62 L207.66,93.92 L208.38,94.22 L209.11,94.52 L209.83,94.82 L210.55,95.12 L211.28,95.41 L212.00,95.71 L212.73,96.00 L213.46,96.30 L214.18,96.59 L214.91,96.88 L215.64,97.17 L216.37,97.46 L217.09,97.75 L217.82,98.04 L218.55,98.32 L219.28,98.61 L220.01,98.89 L220.74,99.17 L221.47,99.46 L222.20,99.74 L222.94,100.02 L223.67,100.30 L224.40,100.58 L225.13,100.85 L225.87,101.13 L226.60,101.41 L227.33,101.68 L228.07,101.95 L228.80,102.23 L229.54,102.50 L230.28,102.77 L231.01,103.04 L231.75,103.31 L232.48,103.57 L233.22,103.84 L233.96,104.11 L234.70,104.37 L235.44,104.63 L236.18,104.90 L236.91,105.16 L237.65,105.42 L238.39,105.68 L239.13,105.94 L239.88,106.20 L240.62,106.46 L241.36,106.71 L242.10,106.97 L242.84,107.22 L243.58,107.48 L244.33,107.73 L245.07,107.98 L245.81,108.23 L246.56,108.48 L247.30,108.73 L248.05,108.98 L248.79,109.23 L249.54,109.47 L250.28,109.72 L251.03,109.96 L251.78,110.21 L252.52,110.45 L253.27,110.69 L254.02,110.93 L254.76,111.17 L255.51,111.41 L256.26,111.65 L257.01,111.89 L257.76,112.13 L258.51,112.36 L259.26,112.60 L260.01,112.83 L260.76,113.07 L261.51,113.30 L262.26,113.53 L263.01,113.76 L263.76,113.99 L264.51,114.22 L265.26,114.45 L266.02,114.68 L266.77,114.91 L267.52,115.13 L268.27,115.36 L269.03,115.58 L269.78,115.81 L270.54,116.03 L271.29,116.25 L272.04,116.47 L272.80,116.70 L273.55,116.92 L274.31,117.13 L275.06,117.35 L275.82,117.57 L276.58,117.79 L277.33,118.00 L278.09,118.22 L278.85,118.43 L279.60,118.65 L280.36,118.86 L281.12,119.07 L281.88,119.29 L282.63,119.50 L283.39,119.71 L284.15,119.92 L284.91,120.12 L285.67,120.33 L286.43,120.54 L287.19,120.75 L287.95,120.95 L288.71,121.16 L289.47,121.36 L290.23,121.57 L290.99,121.77 L291.75,121.97 L292.51,122.17 L293.27,122.37 L294.03,122.57 L294.79,122.77 L295.56,122.97 L296.32,123.17 L297.08,123.37 L297.84,123.56 L298.60,123.76 L299.37,123.96 L300.13,124.15 L300.89,124.34 L301.66,124.54 L302.42,124.73 L303.18,124.92 L303.95,125.11 L304.71,125.31 L305.48,125.50 L306.24,125.68 L307.01,125.87 L307.77,126.06 L308.54,126.25 L309.30,126.44 L310.07,126.62 L310.83,126.81 L311.60,126.99 L312.36,127.18 L313.13,127.36 L313.89,127.55 L314.66,127.73 L315.43,127.91 L316.19,128.09 L316.96,128.27 L317.73,128.45 L318.49,128.63 L319.26,128.81 L320.03,128.99 L320.80,129.17 L321.56,129.35 L322.33,129.52 L323.10,129.70 L323.87,129.87 L324.63,130.05 L325.40,130.22 L326.17,130.40 L326.94,130.57 L327.71,130.74 L328.48,130.92 L329.24,131.09 L330.01,131.26 L330.78,131.43 L331.55,131.60 L332.32,131.77 L333.09,131.94 L333.86,132.11 L334.63,132.28 L335.40,132.44 L336.17,132.61 L336.94,132.78 L337.71,132.94 L338.47,133.11 L339.24,133.27 L340.01,133.44 L340.78,133.60 L341.55,133.77 L342.32,133.93 L343.09,134.09 L343.87,134.25 L344.64,134.41 L345.41,134.58 L346.18,134.74 L346.95,134.90 L347.72,135.06 L348.49,135.22 L349.26,135.37 L350.03,135.53 L350.80,135.69 L351.57,135.85 L352.34,136.00 L353.11,136.16 L353.88,136.32 L354.65,136.47 L355.42,136.63 L356.20,136.78 L356.97,136.94 L357.74,137.09 L358.51,137.24 L359.28,137.40 L360.05,137.55 L360.82,137.70 L361.59,137.85 L362.36,138.00 L363.14,138.16 L363.91,138.31 L364.68,138.46 L365.45,138.61 L366.22,138.76 L366.99,138.90 L367.76,139.05 L368.53,139.20 L369.30,139.35 L370.08,139.50 L370.85,139.64 L371.62,139.79 L372.39,139.94 L373.16,140.08 L373.93,140.23 L374.70,140.37 L375.47,140.52 L376.24,140.66 L377.01,140.81 L377.79,140.95 L378.56,141.09 L379.33,141.24 L380.10,141.38 L380.87,141.52 L381.64,141.66 L382.41,141.81 L383.18,141.95 L383.95,142.09 L384.72,142.23 L385.49,142.37 L386.26,142.51 L387.03,142.65 L387.80,142.79 L388.57,142.93 L389.34,143.07 L390.11,143.21 L390.88,143.35 L391.65,143.48 L392.42,143.62 L393.19,143.76 L393.96,143.90 L394.73,144.03 L395.50,144.17 L396.27,144.31 L397.04,144.44 L397.81,144.58 L398.58,144.72 L399.35,144.85 L400.12,144.99 L400.89,145.12 L401.65,145.26 L402.42,145.39 L403.19,145.53 L403.96,145.66 L404.73,145.79" fill="none" stroke="#0000ff" stroke-linecap="round" stroke-linejoin="round" stroke-width="2.7" stroke-dasharray="0.01 31.59" stroke-dashoffset="-22.099999999999998"/>
<rect x="104.7" y="313.10" width="1.9" height="190.80" fill="#000"/>
<rect x="104.8" y="502.50" width="308.00" height="1.4" fill="#000"/>
<rect x="104.7" y="313.15" width="4.3" height="1.4" fill="#000"/>
<rect x="105" y="379.42" width="3.1" height="1.2" fill="#000"/>
<rect x="105" y="362.75" width="3.1" height="1.2" fill="#000"/>
<rect x="105" y="350.92" width="3.1" height="1.2" fill="#000"/>
<rect x="105" y="341.75" width="3.1" height="1.2" fill="#000"/>
<rect x="105" y="334.25" width="3.1" height="1.2" fill="#000"/>
<rect x="105" y="327.92" width="3.1" height="1.2" fill="#000"/>
<rect x="105" y="322.42" width="3.1" height="1.2" fill="#000"/>
<rect x="105" y="317.58" width="3.1" height="1.2" fill="#000"/>
<rect x="104.7" y="407.83" width="4.3" height="1.4" fill="#000"/>
<rect x="105" y="474.10" width="3.1" height="1.2" fill="#000"/>
<rect x="105" y="457.43" width="3.1" height="1.2" fill="#000"/>
<rect x="105" y="445.60" width="3.1" height="1.2" fill="#000"/>
<rect x="105" y="436.43" width="3.1" height="1.2" fill="#000"/>
<rect x="105" y="428.93" width="3.1" height="1.2" fill="#000"/>
<rect x="105" y="422.59" width="3.1" height="1.2" fill="#000"/>
<rect x="105" y="417.10" width="3.1" height="1.2" fill="#000"/>
<rect x="105" y="412.26" width="3.1" height="1.2" fill="#000"/>
<rect x="104.7" y="502.50" width="4.3" height="1.4" fill="#000"/>
<rect x="112.30" y="500.50" width="1.2" height="3.8" fill="#000"/>
<rect x="124.09" y="501.50" width="1.0" height="2" fill="#000"/>
<rect x="135.77" y="501.50" width="1.0" height="2" fill="#000"/>
<rect x="147.46" y="501.50" width="1.0" height="2" fill="#000"/>
<rect x="159.14" y="501.50" width="1.0" height="2" fill="#000"/>
<rect x="170.73" y="500.50" width="1.2" height="3.8" fill="#000"/>
<rect x="182.52" y="501.50" width="1.0" height="2" fill="#000"/>
<rect x="194.20" y="501.50" width="1.0" height="2" fill="#000"/>
<rect x="205.89" y="501.50" width="1.0" height="2" fill="#000"/>
<rect x="217.57" y="501.50" width="1.0" height="2" fill="#000"/>
<rect x="229.16" y="500.50" width="1.2" height="3.8" fill="#000"/>
<rect x="240.95" y="501.50" width="1.0" height="2" fill="#000"/>
<rect x="252.63" y="501.50" width="1.0" height="2" fill="#000"/>
<rect x="264.32" y="501.50" width="1.0" height="2" fill="#000"/>
<rect x="276.00" y="501.50" width="1.0" height="2" fill="#000"/>
<rect x="287.59" y="500.50" width="1.2" height="3.8" fill="#000"/>
<rect x="299.38" y="501.50" width="1.0" height="2" fill="#000"/>
<rect x="311.06" y="501.50" width="1.0" height="2" fill="#000"/>
<rect x="322.75" y="501.50" width="1.0" height="2" fill="#000"/>
<rect x="334.43" y="501.50" width="1.0" height="2" fill="#000"/>
<rect x="346.02" y="500.50" width="1.2" height="3.8" fill="#000"/>
<rect x="357.81" y="501.50" width="1.0" height="2" fill="#000"/>
<rect x="369.49" y="501.50" width="1.0" height="2" fill="#000"/>
<rect x="381.18" y="501.50" width="1.0" height="2" fill="#000"/>
<rect x="392.86" y="501.50" width="1.0" height="2" fill="#000"/>
<rect x="404.45" y="500.50" width="1.2" height="3.8" fill="#000"/>
<text transform="translate(177.15,305.70) scale(1.07,1)" font-size="16.2" letter-spacing="0.514" font-weight="normal" fill="#000" stroke="#fff" stroke-width="0.22" >Decrease with T</text>
<text transform="translate(210.30,536.60) scale(1.07,1)" font-size="16.2" letter-spacing="0.514" font-weight="normal" fill="#000" stroke="#fff" stroke-width="0.22" >time, min</text>
<g transform="translate(53.3,408.40) rotate(-90)"><text transform="translate(-81.85,0.00) scale(1.07,1)" font-size="16.2" letter-spacing="0.514" font-weight="normal" fill="#000" stroke="#fff" stroke-width="0.22" >pulsed/unpulsed</text></g>
<text transform="translate(107.80,519.60) scale(1.07,1)" font-size="16.2" letter-spacing="0.514" font-weight="normal" fill="#000" stroke="#fff" stroke-width="0.22" >0</text><ellipse cx="113.00" cy="514.26" rx="1.73" ry="2.75" fill="#fff"/>
<text transform="translate(160.75,519.60) scale(1.07,1)" font-size="16.2" letter-spacing="0.514" font-weight="normal" fill="#000" stroke="#fff" stroke-width="0.22" >50</text><ellipse cx="176.91" cy="514.26" rx="1.73" ry="2.75" fill="#fff"/>
<text transform="translate(213.71,519.60) scale(1.07,1)" font-size="16.2" letter-spacing="0.514" font-weight="normal" fill="#000" stroke="#fff" stroke-width="0.22" >100</text><ellipse cx="229.86" cy="514.26" rx="1.73" ry="2.75" fill="#fff"/><ellipse cx="240.81" cy="514.26" rx="1.73" ry="2.75" fill="#fff"/>
<text transform="translate(272.14,519.60) scale(1.07,1)" font-size="16.2" letter-spacing="0.514" font-weight="normal" fill="#000" stroke="#fff" stroke-width="0.22" >150</text><ellipse cx="299.24" cy="514.26" rx="1.73" ry="2.75" fill="#fff"/>
<text transform="translate(330.57,519.60) scale(1.07,1)" font-size="16.2" letter-spacing="0.514" font-weight="normal" fill="#000" stroke="#fff" stroke-width="0.22" >200</text><ellipse cx="346.72" cy="514.26" rx="1.73" ry="2.75" fill="#fff"/><ellipse cx="357.67" cy="514.26" rx="1.73" ry="2.75" fill="#fff"/>
<text transform="translate(389.00,519.60) scale(1.07,1)" font-size="16.2" letter-spacing="0.514" font-weight="normal" fill="#000" stroke="#fff" stroke-width="0.22" >250</text><ellipse cx="416.10" cy="514.26" rx="1.73" ry="2.75" fill="#fff"/>
<text transform="translate(69.20,319.75) scale(1.07,1)" font-size="16.2" letter-spacing="0.514" font-weight="normal" fill="#000" stroke="#fff" stroke-width="0.22" >10</text><ellipse cx="85.35" cy="314.41" rx="1.73" ry="2.75" fill="#fff"/>
<text transform="translate(94.85,313.15) scale(1.07,1)" font-size="12.6" text-anchor="middle" fill="#000" stroke="#fff" stroke-width="0.22">0</text><ellipse cx="94.85" cy="309.00" rx="1.35" ry="2.14" fill="#fff"/>
<text transform="translate(60.40,414.42) scale(1.07,1)" font-size="16.2" letter-spacing="0.514" font-weight="normal" fill="#000" stroke="#fff" stroke-width="0.22" >10</text><ellipse cx="76.55" cy="409.09" rx="1.73" ry="2.75" fill="#fff"/>
<rect x="83.0" y="404.27" width="4.4" height="0.9" fill="#000"/>
<text transform="translate(94.95,407.82) scale(1.07,1)" font-size="12.6" text-anchor="middle" fill="#000" stroke="#fff" stroke-width="0.22">1</text>
<text transform="translate(60.40,509.10) scale(1.07,1)" font-size="16.2" letter-spacing="0.514" font-weight="normal" fill="#000" stroke="#fff" stroke-width="0.22" >10</text><ellipse cx="76.55" cy="503.76" rx="1.73" ry="2.75" fill="#fff"/>
<rect x="83.0" y="498.95" width="4.4" height="0.9" fill="#000"/>
<text transform="translate(94.95,502.50) scale(1.07,1)" font-size="12.6" text-anchor="middle" fill="#000" stroke="#fff" stroke-width="0.22">2</text>
<path d="M30.6,288.9 V298.4 M27.1,288.9 H34.2 C37.6,288.9 37.6,293.4 34.2,293.4 H30.6 M34.2,293.4 H35 C39.2,293.4 39.2,298.4 35,298.4 H27.1" fill="none" stroke="#000" stroke-width="2.2" stroke-linejoin="round"/>
<line x1="113.9" y1="456.4" x2="148.5" y2="456.4" stroke="#000" stroke-width="1.3"/>
<path d="M115.8,469.9 h4.9 M133.0,469.9 h4.7" stroke="#ff0000" stroke-width="1.3"/>
<path d="M113.9,483.2 h8.7 M130.9,483.2 h8.6" stroke="#00ff00" stroke-width="1.3"/>
<path d="M115.8,496.1 h4.9 M133.0,496.1 h4.7" stroke="#0000ff" stroke-width="1.3"/><circle cx="126.9" cy="495.40000000000003" r="1.65" fill="#0000ff"/>
<text transform="translate(145.11,459.70) scale(1.1,1)" font-size="12.4" letter-spacing="0.333" font-weight="bold" fill="#000000"  >cT=0</text><ellipse cx="174.85" cy="455.61" rx="1.16" ry="1.98" fill="#fff"/>
<text transform="translate(145.11,472.70) scale(1.1,1)" font-size="12.4" letter-spacing="0.333" font-weight="bold" fill="#ff0000"  >cT=100</text><ellipse cx="183.40" cy="468.61" rx="1.16" ry="1.98" fill="#fff"/><ellipse cx="191.95" cy="468.61" rx="1.16" ry="1.98" fill="#fff"/>
<text transform="translate(145.11,486.10) scale(1.1,1)" font-size="12.4" letter-spacing="0.333" font-weight="bold" fill="#00ff00"  >cT=5000</text><ellipse cx="183.40" cy="482.01" rx="1.16" ry="1.98" fill="#fff"/><ellipse cx="191.95" cy="482.01" rx="1.16" ry="1.98" fill="#fff"/><ellipse cx="200.50" cy="482.01" rx="1.16" ry="1.98" fill="#fff"/>
<text transform="translate(145.11,499.30) scale(1.1,1)" font-size="12.4" letter-spacing="0.333" font-weight="bold" fill="#0000ff"  >cT=10000</text><ellipse cx="183.40" cy="495.21" rx="1.16" ry="1.98" fill="#fff"/><ellipse cx="191.95" cy="495.21" rx="1.16" ry="1.98" fill="#fff"/><ellipse cx="200.50" cy="495.21" rx="1.16" ry="1.98" fill="#fff"/><ellipse cx="209.05" cy="495.21" rx="1.16" ry="1.98" fill="#fff"/>
<path d="M114.42,317.84 L114.58,318.58 L114.74,319.33 L114.91,320.08 L115.07,320.83 L115.24,321.57 L115.41,322.32 L115.57,323.06 L115.75,323.80 L115.92,324.55 L116.09,325.29 L116.27,326.03 L116.44,326.77 L116.62,327.51 L116.80,328.25 L116.99,328.99 L117.17,329.73 L117.36,330.46 L117.54,331.20 L117.73,331.94 L117.92,332.67 L118.12,333.40 L118.31,334.13 L118.51,334.87 L118.71,335.60 L118.91,336.33 L119.11,337.05 L119.31,337.78 L119.52,338.51 L119.73,339.23 L119.94,339.96 L120.15,340.68 L120.36,341.40 L120.58,342.12 L120.80,342.84 L121.02,343.56 L121.24,344.27 L121.46,344.99 L121.69,345.70 L121.92,346.42 L122.15,347.13 L122.38,347.84 L122.62,348.55 L122.86,349.26 L123.10,349.96 L123.34,350.67 L123.59,351.37 L123.83,352.07 L124.08,352.77 L124.34,353.47 L124.59,354.17 L124.85,354.86 L125.11,355.56 L125.37,356.25 L125.64,356.94 L125.90,357.63 L126.17,358.32 L126.45,359.00 L126.72,359.69 L127.00,360.37 L127.28,361.05 L127.56,361.73 L127.85,362.40 L128.14,363.08 L128.43,363.75 L128.72,364.42 L129.02,365.09 L129.32,365.76 L129.62,366.43 L129.93,367.09 L130.24,367.75 L130.55,368.41 L130.86,369.07 L131.18,369.73 L131.50,370.38 L131.83,371.03 L132.15,371.68 L132.48,372.33 L132.82,372.98 L133.15,373.62 L133.49,374.26 L133.83,374.90 L134.18,375.54 L134.53,376.17 L134.88,376.80 L135.23,377.43 L135.59,378.06 L135.95,378.69 L136.32,379.31 L136.69,379.93 L137.06,380.55 L137.43,381.16 L137.81,381.78 L138.19,382.39 L138.58,383.00 L138.97,383.60 L139.36,384.21 L139.75,384.81 L140.15,385.41 L140.55,386.01 L140.96,386.60 L141.37,387.19 L141.78,387.78 L142.19,388.37 L142.61,388.95 L143.03,389.53 L143.46,390.11 L143.88,390.69 L144.32,391.26 L144.75,391.84 L145.19,392.41 L145.63,392.97 L146.07,393.54 L146.51,394.10 L146.96,394.66 L147.42,395.22 L147.87,395.77 L148.33,396.33 L148.79,396.88 L149.25,397.42 L149.72,397.97 L150.19,398.51 L150.66,399.05 L151.14,399.59 L151.62,400.12 L152.10,400.66 L152.58,401.19 L153.07,401.72 L153.56,402.24 L154.05,402.76 L154.54,403.28 L155.04,403.80 L155.54,404.32 L156.04,404.83 L156.55,405.34 L157.06,405.85 L157.57,406.36 L158.08,406.86 L158.60,407.36 L159.12,407.86 L159.64,408.35 L160.16,408.85 L160.69,409.34 L161.21,409.83 L161.75,410.31 L162.28,410.80 L162.81,411.28 L163.35,411.75 L163.89,412.23 L164.44,412.70 L164.98,413.18 L165.53,413.64 L166.08,414.11 L166.63,414.57 L167.18,415.03 L167.74,415.49 L168.30,415.95 L168.86,416.40 L169.42,416.85 L169.99,417.30 L170.56,417.75 L171.12,418.19 L171.70,418.63 L172.27,419.07 L172.85,419.51 L173.42,419.94 L174.00,420.37 L174.59,420.80 L175.17,421.23 L175.76,421.65 L176.34,422.08 L176.93,422.50 L177.53,422.91 L178.12,423.33 L178.71,423.74 L179.31,424.15 L179.91,424.56 L180.51,424.97 L181.12,425.37 L181.72,425.77 L182.33,426.17 L182.94,426.57 L183.55,426.96 L184.16,427.36 L184.78,427.75 L185.39,428.14 L186.01,428.52 L186.63,428.91 L187.25,429.29 L187.87,429.67 L188.50,430.05 L189.13,430.42 L189.75,430.80 L190.38,431.17 L191.02,431.54 L191.65,431.91 L192.28,432.27 L192.92,432.63 L193.56,433.00 L194.20,433.36 L194.84,433.71 L195.48,434.07 L196.12,434.42 L196.77,434.78 L197.42,435.13 L198.07,435.47 L198.72,435.82 L199.37,436.16 L200.02,436.51 L200.67,436.85 L201.33,437.19 L201.99,437.52 L202.65,437.86 L203.31,438.19 L203.97,438.52 L204.63,438.85 L205.29,439.18 L205.96,439.51 L206.63,439.83 L207.29,440.16 L207.96,440.48 L208.63,440.80 L209.30,441.12 L209.98,441.43 L210.65,441.75 L211.33,442.06 L212.00,442.37 L212.68,442.68 L213.36,442.99 L214.04,443.30 L214.72,443.60 L215.40,443.91 L216.08,444.21 L216.77,444.51 L217.45,444.81 L218.14,445.10 L218.83,445.40 L219.51,445.69 L220.20,445.99 L220.89,446.28 L221.59,446.57 L222.28,446.86 L222.97,447.15 L223.66,447.43 L224.36,447.72 L225.06,448.00 L225.75,448.28 L226.45,448.56 L227.15,448.84 L227.85,449.12 L228.55,449.39 L229.25,449.67 L229.95,449.94 L230.65,450.22 L231.35,450.49 L232.06,450.76 L232.76,451.03 L233.47,451.30 L234.17,451.56 L234.88,451.83 L235.59,452.09 L236.30,452.35 L237.01,452.62 L237.71,452.88 L238.42,453.14 L239.13,453.39 L239.85,453.65 L240.56,453.91 L241.27,454.16 L241.98,454.42 L242.70,454.67 L243.41,454.92 L244.12,455.17 L244.84,455.42 L245.55,455.67 L246.27,455.92 L246.99,456.17 L247.70,456.41 L248.42,456.66 L249.14,456.90 L249.85,457.15 L250.57,457.39 L251.29,457.63 L252.01,457.87 L252.73,458.11 L253.45,458.35 L254.17,458.59 L254.89,458.83 L255.61,459.06 L256.33,459.30 L257.05,459.53 L257.77,459.77 L258.49,460.00 L259.21,460.24 L259.93,460.47 L260.65,460.70 L261.37,460.93 L262.10,461.16 L262.82,461.39 L263.54,461.62 L264.26,461.85 L264.99,462.08 L265.71,462.30 L266.43,462.53 L267.15,462.75 L267.88,462.98 L268.60,463.20 L269.32,463.43 L270.05,463.65 L270.77,463.87 L271.49,464.09 L272.22,464.32 L272.94,464.54 L273.66,464.76 L274.39,464.97 L275.11,465.19 L275.84,465.41 L276.56,465.63 L277.28,465.84 L278.01,466.06 L278.73,466.27 L279.46,466.49 L280.18,466.70 L280.91,466.92 L281.63,467.13 L282.36,467.34 L283.09,467.55 L283.81,467.76 L284.54,467.97 L285.26,468.18 L285.99,468.39 L286.72,468.60 L287.44,468.80 L288.17,469.01 L288.89,469.22 L289.62,469.42 L290.35,469.62 L291.07,469.83 L291.80,470.03 L292.53,470.23 L293.26,470.44 L293.98,470.64 L294.71,470.84 L295.44,471.04 L296.17,471.24 L296.89,471.44 L297.62,471.63 L298.35,471.83 L299.08,472.03 L299.81,472.22 L300.54,472.42 L301.26,472.61 L301.99,472.81 L302.72,473.00 L303.45,473.20 L304.18,473.39 L304.91,473.58 L305.64,473.77 L306.37,473.96 L307.10,474.15 L307.83,474.34 L308.56,474.53 L309.29,474.72 L310.02,474.90 L310.75,475.09 L311.48,475.27 L312.21,475.46 L312.94,475.64 L313.67,475.83 L314.40,476.01 L315.13,476.19 L315.86,476.38 L316.59,476.56 L317.32,476.74 L318.05,476.92 L318.79,477.10 L319.52,477.28 L320.25,477.45 L320.98,477.63 L321.71,477.81 L322.44,477.99 L323.18,478.16 L323.91,478.34 L324.64,478.51 L325.37,478.68 L326.11,478.86 L326.84,479.03 L327.57,479.20 L328.30,479.37 L329.04,479.54 L329.77,479.71 L330.50,479.88 L331.24,480.05 L331.97,480.22 L332.70,480.39 L333.44,480.55 L334.17,480.72 L334.90,480.89 L335.64,481.05 L336.37,481.22 L337.10,481.38 L337.84,481.54 L338.57,481.70 L339.31,481.87 L340.04,482.03 L340.78,482.19 L341.51,482.35 L342.25,482.51 L342.98,482.67 L343.72,482.83 L344.45,482.98 L345.19,483.14 L345.92,483.30 L346.66,483.45 L347.39,483.61 L348.13,483.76 L348.86,483.92 L349.60,484.07 L350.33,484.22 L351.07,484.37 L351.81,484.52 L352.54,484.68 L353.28,484.83 L354.01,484.98 L354.75,485.12 L355.49,485.27 L356.22,485.42 L356.96,485.57 L357.70,485.71 L358.43,485.86 L359.17,486.01 L359.91,486.15 L360.65,486.29 L361.38,486.44 L362.12,486.58 L362.86,486.72 L363.60,486.86 L364.33,487.01 L365.07,487.15 L365.81,487.29 L366.55,487.42 L367.28,487.56 L368.02,487.70 L368.76,487.84 L369.50,487.98 L370.24,488.11 L370.98,488.25 L371.71,488.38 L372.45,488.52 L373.19,488.65 L373.93,488.78 L374.67,488.92 L375.41,489.05 L376.15,489.18 L376.89,489.31 L377.63,489.44 L378.36,489.57 L379.10,489.70 L379.84,489.83 L380.58,489.96 L381.32,490.08 L382.06,490.21 L382.80,490.34 L383.54,490.46 L384.28,490.59 L385.02,490.71 L385.76,490.83 L386.50,490.96 L387.24,491.08 L387.98,491.20 L388.72,491.32 L389.46,491.44 L390.21,491.56 L390.95,491.68 L391.69,491.80 L392.43,491.92 L393.17,492.04 L393.91,492.16 L394.65,492.27 L395.39,492.39 L396.13,492.50 L396.87,492.62 L397.62,492.73 L398.36,492.85 L399.10,492.96 L399.84,493.07 L400.58,493.19 L401.32,493.30 L402.07,493.41 L402.81,493.52 L403.55,493.63 L404.29,493.74" fill="none" stroke="#000000" stroke-linecap="round" stroke-linejoin="round" stroke-width="2.3"/>
<path d="M114.42,317.84 L114.58,318.58 L114.74,319.33 L114.91,320.08 L115.07,320.83 L115.24,321.57 L115.41,322.32 L115.57,323.06 L115.75,323.80 L115.92,324.55 L116.09,325.29 L116.27,326.03 L116.44,326.77 L116.62,327.51 L116.80,328.25 L116.99,328.99 L117.17,329.73 L117.36,330.46 L117.54,331.20 L117.73,331.94 L117.92,332.67 L118.12,333.40 L118.31,334.13 L118.51,334.87 L118.71,335.60 L118.91,336.33 L119.11,337.05 L119.31,337.78 L119.52,338.51 L119.73,339.23 L119.94,339.96 L120.15,340.68 L120.36,341.40 L120.58,342.12 L120.80,342.84 L121.02,343.56 L121.24,344.27 L121.46,344.99 L121.69,345.70 L121.92,346.42 L122.15,347.13 L122.38,347.84 L122.62,348.55 L122.86,349.26 L123.10,349.96 L123.34,350.67 L123.59,351.37 L123.83,352.07 L124.08,352.77 L124.34,353.47 L124.59,354.17 L124.85,354.86 L125.11,355.56 L125.37,356.25 L125.64,356.94 L125.90,357.63 L126.17,358.32 L126.45,359.00 L126.72,359.69 L127.00,360.37 L127.28,361.05 L127.56,361.73 L127.85,362.40 L128.14,363.08 L128.43,363.75 L128.72,364.42 L129.02,365.09 L129.32,365.76 L129.62,366.43 L129.93,367.09 L130.24,367.75 L130.55,368.41 L130.86,369.07 L131.18,369.73 L131.50,370.38 L131.83,371.03 L132.15,371.68 L132.48,372.33 L132.82,372.98 L133.15,373.62 L133.49,374.26 L133.83,374.90 L134.18,375.54 L134.53,376.17 L134.88,376.80 L135.23,377.43 L135.59,378.06 L135.95,378.69 L136.32,379.31 L136.69,379.93 L137.06,380.55 L137.43,381.16 L137.81,381.78 L138.19,382.39 L138.58,383.00 L138.97,383.60 L139.36,384.21 L139.75,384.81 L140.15,385.41 L140.55,386.01 L140.96,386.60 L141.37,387.19 L141.78,387.78 L142.19,388.37 L142.61,388.95 L143.03,389.53 L143.46,390.11 L143.88,390.69 L144.32,391.26 L144.75,391.84 L145.19,392.41 L145.63,392.97 L146.07,393.54 L146.51,394.10 L146.96,394.66 L147.42,395.22 L147.87,395.77 L148.33,396.33 L148.79,396.88 L149.25,397.42 L149.72,397.97 L150.19,398.51 L150.66,399.05 L151.14,399.59 L151.62,400.12 L152.10,400.66 L152.58,401.19 L153.07,401.72 L153.56,402.24 L154.05,402.76 L154.54,403.28 L155.04,403.80 L155.54,404.32 L156.04,404.83 L156.55,405.34 L157.06,405.85 L157.57,406.36 L158.08,406.86 L158.60,407.36 L159.12,407.86 L159.64,408.35 L160.16,408.85 L160.69,409.34 L161.21,409.83 L161.75,410.31 L162.28,410.80 L162.81,411.28 L163.35,411.75 L163.89,412.23 L164.44,412.70 L164.98,413.18 L165.53,413.64 L166.08,414.11 L166.63,414.57 L167.18,415.03 L167.74,415.49 L168.30,415.95 L168.86,416.40 L169.42,416.85 L169.99,417.30 L170.56,417.75 L171.12,418.19 L171.70,418.63 L172.27,419.07 L172.85,419.51 L173.42,419.94 L174.00,420.37 L174.59,420.80 L175.17,421.23 L175.76,421.65 L176.34,422.08 L176.93,422.50 L177.53,422.91 L178.12,423.33 L178.71,423.74 L179.31,424.15 L179.91,424.56 L180.51,424.97 L181.12,425.37 L181.72,425.77 L182.33,426.17 L182.94,426.57 L183.55,426.96 L184.16,427.36 L184.78,427.75 L185.39,428.14 L186.01,428.52 L186.63,428.91 L187.25,429.29 L187.87,429.67 L188.50,430.05 L189.13,430.42 L189.75,430.80 L190.38,431.17 L191.02,431.54 L191.65,431.91 L192.28,432.27 L192.92,432.63 L193.56,433.00 L194.20,433.36 L194.84,433.71 L195.48,434.07 L196.12,434.42 L196.77,434.78 L197.42,435.13 L198.07,435.47 L198.72,435.82 L199.37,436.16 L200.02,436.51 L200.67,436.85 L201.33,437.19 L201.99,437.52 L202.65,437.86 L203.31,438.19 L203.97,438.52 L204.63,438.85 L205.29,439.18 L205.96,439.51 L206.63,439.83 L207.29,440.16 L207.96,440.48 L208.63,440.80 L209.30,441.12 L209.98,441.43 L210.65,441.75 L211.33,442.06 L212.00,442.37 L212.68,442.68 L213.36,442.99 L214.04,443.30 L214.72,443.60 L215.40,443.91 L216.08,444.21 L216.77,444.51 L217.45,444.81 L218.14,445.10 L218.83,445.40 L219.51,445.69 L220.20,445.99 L220.89,446.28 L221.59,446.57 L222.28,446.86 L222.97,447.15 L223.66,447.43 L224.36,447.72 L225.06,448.00 L225.75,448.28 L226.45,448.56 L227.15,448.84 L227.85,449.12 L228.55,449.39 L229.25,449.67 L229.95,449.94 L230.65,450.22 L231.35,450.49 L232.06,450.76 L232.76,451.03 L233.47,451.30 L234.17,451.56 L234.88,451.83 L235.59,452.09 L236.30,452.35 L237.01,452.62 L237.71,452.88 L238.42,453.14 L239.13,453.39 L239.85,453.65 L240.56,453.91 L241.27,454.16 L241.98,454.42 L242.70,454.67 L243.41,454.92 L244.12,455.17 L244.84,455.42 L245.55,455.67 L246.27,455.92 L246.99,456.17 L247.70,456.41 L248.42,456.66 L249.14,456.90 L249.85,457.15 L250.57,457.39 L251.29,457.63 L252.01,457.87 L252.73,458.11 L253.45,458.35 L254.17,458.59 L254.89,458.83 L255.61,459.06 L256.33,459.30 L257.05,459.53 L257.77,459.77 L258.49,460.00 L259.21,460.24 L259.93,460.47 L260.65,460.70 L261.37,460.93 L262.10,461.16 L262.82,461.39 L263.54,461.62 L264.26,461.85 L264.99,462.08 L265.71,462.30 L266.43,462.53 L267.15,462.75 L267.88,462.98 L268.60,463.20 L269.32,463.43 L270.05,463.65 L270.77,463.87 L271.49,464.09 L272.22,464.32 L272.94,464.54 L273.66,464.76 L274.39,464.97 L275.11,465.19 L275.84,465.41 L276.56,465.63 L277.28,465.84 L278.01,466.06 L278.73,466.27 L279.46,466.49 L280.18,466.70 L280.91,466.92 L281.63,467.13 L282.36,467.34 L283.09,467.55 L283.81,467.76 L284.54,467.97 L285.26,468.18 L285.99,468.39 L286.72,468.60 L287.44,468.80 L288.17,469.01 L288.89,469.22 L289.62,469.42 L290.35,469.62 L291.07,469.83 L291.80,470.03 L292.53,470.23 L293.26,470.44 L293.98,470.64 L294.71,470.84 L295.44,471.04 L296.17,471.24 L296.89,471.44 L297.62,471.63 L298.35,471.83 L299.08,472.03 L299.81,472.22 L300.54,472.42 L301.26,472.61 L301.99,472.81 L302.72,473.00 L303.45,473.20 L304.18,473.39 L304.91,473.58 L305.64,473.77 L306.37,473.96 L307.10,474.15 L307.83,474.34 L308.56,474.53 L309.29,474.72 L310.02,474.90 L310.75,475.09 L311.48,475.27 L312.21,475.46 L312.94,475.64 L313.67,475.83 L314.40,476.01 L315.13,476.19 L315.86,476.38 L316.59,476.56 L317.32,476.74 L318.05,476.92 L318.79,477.10 L319.52,477.28 L320.25,477.45 L320.98,477.63 L321.71,477.81 L322.44,477.99 L323.18,478.16 L323.91,478.34 L324.64,478.51 L325.37,478.68 L326.11,478.86 L326.84,479.03 L327.57,479.20 L328.30,479.37 L329.04,479.54 L329.77,479.71 L330.50,479.88 L331.24,480.05 L331.97,480.22 L332.70,480.39 L333.44,480.55 L334.17,480.72 L334.90,480.89 L335.64,481.05 L336.37,481.22 L337.10,481.38 L337.84,481.54 L338.57,481.70 L339.31,481.87 L340.04,482.03 L340.78,482.19 L341.51,482.35 L342.25,482.51 L342.98,482.67 L343.72,482.83 L344.45,482.98 L345.19,483.14 L345.92,483.30 L346.66,483.45 L347.39,483.61 L348.13,483.76 L348.86,483.92 L349.60,484.07 L350.33,484.22 L351.07,484.37 L351.81,484.52 L352.54,484.68 L353.28,484.83 L354.01,484.98 L354.75,485.12 L355.49,485.27 L356.22,485.42 L356.96,485.57 L357.70,485.71 L358.43,485.86 L359.17,486.01 L359.91,486.15 L360.65,486.29 L361.38,486.44 L362.12,486.58 L362.86,486.72 L363.60,486.86 L364.33,487.01 L365.07,487.15 L365.81,487.29 L366.55,487.42 L367.28,487.56 L368.02,487.70 L368.76,487.84 L369.50,487.98 L370.24,488.11 L370.98,488.25 L371.71,488.38 L372.45,488.52 L373.19,488.65 L373.93,488.78 L374.67,488.92 L375.41,489.05 L376.15,489.18 L376.89,489.31 L377.63,489.44 L378.36,489.57 L379.10,489.70 L379.84,489.83 L380.58,489.96 L381.32,490.08 L382.06,490.21 L382.80,490.34 L383.54,490.46 L384.28,490.59 L385.02,490.71 L385.76,490.83 L386.50,490.96 L387.24,491.08 L387.98,491.20 L388.72,491.32 L389.46,491.44 L390.21,491.56 L390.95,491.68 L391.69,491.80 L392.43,491.92 L393.17,492.04 L393.91,492.16 L394.65,492.27 L395.39,492.39 L396.13,492.50 L396.87,492.62 L397.62,492.73 L398.36,492.85 L399.10,492.96 L399.84,493.07 L400.58,493.19 L401.32,493.30 L402.07,493.41 L402.81,493.52 L403.55,493.63 L404.29,493.74" fill="none" stroke="#ff0000" stroke-linecap="round" stroke-linejoin="round" stroke-width="2.3" stroke-dasharray="12.4 4.6"/>
<path d="M113.73,317.36 L114.05,318.21 L114.38,319.04 L114.72,319.86 L115.09,320.67 L115.46,321.47 L115.85,322.25 L116.24,323.03 L116.66,323.79 L117.08,324.53 L117.52,325.27 L117.97,325.99 L118.43,326.71 L118.90,327.41 L119.39,328.10 L119.88,328.78 L120.39,329.45 L120.91,330.10 L121.44,330.75 L121.97,331.39 L122.52,332.02 L123.08,332.64 L123.65,333.25 L124.23,333.84 L124.82,334.43 L125.42,335.02 L126.02,335.59 L126.64,336.15 L127.26,336.71 L127.89,337.25 L128.53,337.79 L129.18,338.32 L129.83,338.84 L130.50,339.36 L131.17,339.87 L131.85,340.37 L132.53,340.86 L133.22,341.35 L133.92,341.83 L134.62,342.30 L135.33,342.77 L136.05,343.23 L136.77,343.68 L137.50,344.13 L138.23,344.58 L138.97,345.02 L139.71,345.45 L140.45,345.88 L141.21,346.30 L141.96,346.72 L142.72,347.13 L143.48,347.54 L144.25,347.95 L145.02,348.35 L145.79,348.75 L146.57,349.15 L147.35,349.54 L148.13,349.93 L148.91,350.31 L149.70,350.69 L150.48,351.07 L151.27,351.45 L152.06,351.83 L152.85,352.20 L153.65,352.57 L154.44,352.94 L155.23,353.31 L156.03,353.68 L156.82,354.04 L157.62,354.41 L158.41,354.77 L159.21,355.13 L160.00,355.50 L160.79,355.86 L161.59,356.22 L162.38,356.58 L163.17,356.94 L163.96,357.31 L164.75,357.67 L165.54,358.03 L166.33,358.39 L167.12,358.75 L167.91,359.11 L168.70,359.47 L169.48,359.83 L170.27,360.19 L171.06,360.55 L171.84,360.91 L172.63,361.27 L173.41,361.62 L174.19,361.98 L174.97,362.35 L175.76,362.71 L176.54,363.07 L177.32,363.43 L178.10,363.79 L178.88,364.15 L179.65,364.51 L180.43,364.87 L181.21,365.24 L181.98,365.60 L182.76,365.96 L183.53,366.33 L184.31,366.69 L185.08,367.06 L185.85,367.42 L186.62,367.79 L187.39,368.16 L188.16,368.53 L188.93,368.90 L189.70,369.27 L190.46,369.64 L191.23,370.01 L192.00,370.38 L192.76,370.75 L193.52,371.13 L194.28,371.50 L195.05,371.88 L195.81,372.26 L196.57,372.64 L197.32,373.02 L198.08,373.40 L198.84,373.78 L199.59,374.16 L200.35,374.55 L201.10,374.94 L201.85,375.32 L202.60,375.71 L203.36,376.10 L204.10,376.50 L204.85,376.89 L205.60,377.28 L206.35,377.68 L207.09,378.08 L207.84,378.48 L208.58,378.88 L209.32,379.29 L210.06,379.69 L210.80,380.10 L211.54,380.51 L212.28,380.92 L213.01,381.33 L213.75,381.74 L214.48,382.16 L215.21,382.58 L215.94,383.00 L216.67,383.42 L217.40,383.85 L218.13,384.27 L218.86,384.70 L219.58,385.13 L220.31,385.57 L221.03,386.00 L221.75,386.44 L222.47,386.88 L223.19,387.33 L223.91,387.77 L224.62,388.22 L225.34,388.67 L226.05,389.12 L226.76,389.58 L227.47,390.03 L228.18,390.50 L228.89,390.96 L229.60,391.42 L230.30,391.89 L231.01,392.36 L231.71,392.84 L232.41,393.32 L233.11,393.80 L233.81,394.28 L234.51,394.76 L235.20,395.25 L235.90,395.74 L236.59,396.23 L237.28,396.73 L237.97,397.22 L238.66,397.72 L239.35,398.22 L240.04,398.73 L240.73,399.23 L241.41,399.74 L242.10,400.25 L242.78,400.76 L243.47,401.27 L244.15,401.79 L244.83,402.30 L245.51,402.82 L246.19,403.34 L246.87,403.86 L247.55,404.38 L248.23,404.91 L248.91,405.43 L249.58,405.96 L250.26,406.49 L250.93,407.02 L251.61,407.55 L252.28,408.08 L252.96,408.61 L253.63,409.14 L254.30,409.68 L254.98,410.21 L255.65,410.75 L256.32,411.28 L256.99,411.82 L257.67,412.36 L258.34,412.90 L259.01,413.44 L259.68,413.97 L260.35,414.51 L261.02,415.05 L261.69,415.59 L262.36,416.13 L263.03,416.67 L263.70,417.21 L264.37,417.76 L265.04,418.30 L265.72,418.84 L266.39,419.38 L267.06,419.92 L267.73,420.46 L268.40,421.00 L269.07,421.53 L269.75,422.07 L270.42,422.61 L271.09,423.15 L271.76,423.69 L272.44,424.22 L273.11,424.76 L273.79,425.29 L274.46,425.83 L275.14,426.36 L275.81,426.89 L276.49,427.42 L277.17,427.95 L277.85,428.48 L278.52,429.01 L279.20,429.54 L279.88,430.06 L280.56,430.59 L281.25,431.11 L281.93,431.63 L282.61,432.15 L283.30,432.67 L283.98,433.18 L284.67,433.70 L285.36,434.21 L286.04,434.72 L286.73,435.23 L287.42,435.74 L288.12,436.25 L288.81,436.75 L289.50,437.25 L290.20,437.75 L290.89,438.25 L291.59,438.74 L292.29,439.23 L292.99,439.72 L293.69,440.21 L294.39,440.69 L295.10,441.18 L295.80,441.66 L296.51,442.13 L297.22,442.61 L297.93,443.08 L298.64,443.55 L299.35,444.01 L300.07,444.48 L300.79,444.94 L301.50,445.39 L302.22,445.85 L302.95,446.30 L303.67,446.74 L304.39,447.19 L305.12,447.63 L305.85,448.06 L306.58,448.50 L307.31,448.93 L308.05,449.35 L308.79,449.78 L309.52,450.20 L310.27,450.61 L311.01,451.02 L311.75,451.43 L312.50,451.84 L313.25,452.24 L314.00,452.63 L314.75,453.03 L315.50,453.42 L316.26,453.80 L317.02,454.19 L317.78,454.57 L318.54,454.94 L319.30,455.32 L320.07,455.69 L320.83,456.06 L321.60,456.42 L322.37,456.78 L323.14,457.14 L323.92,457.49 L324.69,457.84 L325.47,458.19 L326.25,458.54 L327.02,458.88 L327.81,459.22 L328.59,459.55 L329.37,459.89 L330.16,460.22 L330.94,460.55 L331.73,460.87 L332.52,461.19 L333.31,461.51 L334.10,461.83 L334.89,462.14 L335.69,462.46 L336.48,462.76 L337.28,463.07 L338.08,463.38 L338.88,463.68 L339.68,463.98 L340.48,464.27 L341.28,464.57 L342.09,464.86 L342.89,465.15 L343.70,465.44 L344.50,465.72 L345.31,466.01 L346.12,466.29 L346.93,466.57 L347.74,466.84 L348.55,467.12 L349.36,467.39 L350.18,467.66 L350.99,467.93 L351.81,468.20 L352.62,468.46 L353.44,468.72 L354.25,468.98 L355.07,469.24 L355.89,469.50 L356.71,469.76 L357.53,470.01 L358.35,470.26 L359.17,470.51 L359.99,470.76 L360.81,471.01 L361.64,471.26 L362.46,471.50 L363.28,471.75 L364.11,471.99 L364.93,472.23 L365.76,472.47 L366.58,472.71 L367.41,472.94 L368.23,473.18 L369.06,473.41 L369.89,473.64 L370.71,473.88 L371.54,474.11 L372.37,474.34 L373.20,474.56 L374.03,474.79 L374.85,475.02 L375.68,475.24 L376.51,475.47 L377.34,475.69 L378.17,475.91 L379.00,476.14 L379.82,476.36 L380.65,476.58 L381.48,476.80 L382.31,477.02 L383.14,477.23 L383.97,477.45 L384.80,477.67 L385.62,477.88 L386.45,478.10 L387.28,478.32 L388.11,478.53 L388.93,478.75 L389.76,478.96 L390.59,479.17 L391.42,479.39 L392.24,479.60 L393.07,479.81 L393.89,480.03 L394.72,480.24 L395.54,480.45 L396.37,480.66 L397.19,480.88 L398.02,481.09 L398.84,481.30 L399.66,481.51 L400.48,481.73 L401.31,481.94 L402.13,482.15 L402.95,482.36 L403.77,482.58 L404.59,482.79" fill="none" stroke="#00ff00" stroke-linecap="round" stroke-linejoin="round" stroke-width="2.3" stroke-dasharray="28.0 4.1"/>
<path d="M113.78,317.45 L113.97,318.28 L114.23,319.05 L114.56,319.76 L114.96,320.42 L115.42,321.03 L115.92,321.60 L116.47,322.12 L117.06,322.61 L117.67,323.08 L118.31,323.51 L118.97,323.92 L119.63,324.31 L120.30,324.69 L120.99,325.05 L121.68,325.40 L122.37,325.72 L123.08,326.04 L123.79,326.34 L124.51,326.62 L125.24,326.90 L125.97,327.16 L126.71,327.41 L127.45,327.64 L128.20,327.87 L128.96,328.09 L129.72,328.29 L130.48,328.49 L131.25,328.68 L132.02,328.86 L132.79,329.04 L133.57,329.21 L134.35,329.37 L135.13,329.52 L135.91,329.68 L136.70,329.82 L137.48,329.97 L138.27,330.11 L139.06,330.24 L139.84,330.38 L140.63,330.51 L141.42,330.64 L142.20,330.78 L142.99,330.91 L143.78,331.04 L144.56,331.17 L145.35,331.30 L146.13,331.43 L146.91,331.56 L147.70,331.68 L148.48,331.81 L149.26,331.94 L150.04,332.06 L150.82,332.19 L151.60,332.32 L152.38,332.44 L153.16,332.56 L153.94,332.69 L154.72,332.81 L155.50,332.93 L156.28,333.06 L157.06,333.18 L157.83,333.30 L158.61,333.42 L159.39,333.54 L160.16,333.66 L160.94,333.78 L161.71,333.90 L162.49,334.02 L163.26,334.13 L164.04,334.25 L164.81,334.37 L165.58,334.49 L166.36,334.60 L167.13,334.72 L167.90,334.84 L168.67,334.95 L169.44,335.07 L170.22,335.18 L170.99,335.30 L171.76,335.41 L172.53,335.52 L173.30,335.64 L174.07,335.75 L174.84,335.86 L175.61,335.98 L176.38,336.09 L177.15,336.20 L177.92,336.31 L178.69,336.43 L179.46,336.54 L180.23,336.65 L180.99,336.76 L181.76,336.87 L182.53,336.98 L183.30,337.09 L184.07,337.20 L184.83,337.32 L185.60,337.43 L186.37,337.54 L187.14,337.65 L187.90,337.76 L188.67,337.87 L189.44,337.98 L190.20,338.08 L190.97,338.19 L191.74,338.30 L192.50,338.41 L193.27,338.52 L194.04,338.63 L194.80,338.74 L195.57,338.85 L196.34,338.96 L197.10,339.07 L197.87,339.18 L198.64,339.29 L199.40,339.40 L200.17,339.51 L200.94,339.61 L201.70,339.72 L202.47,339.83 L203.24,339.94 L204.00,340.05 L204.77,340.16 L205.54,340.27 L206.30,340.38 L207.07,340.49 L207.84,340.60 L208.61,340.71 L209.37,340.82 L210.14,340.93 L210.91,341.04 L211.68,341.15 L212.44,341.26 L213.21,341.37 L213.98,341.48 L214.75,341.60 L215.52,341.71 L216.29,341.82 L217.06,341.93 L217.82,342.04 L218.59,342.15 L219.36,342.27 L220.13,342.38 L220.90,342.49 L221.67,342.61 L222.44,342.72 L223.21,342.83 L223.99,342.95 L224.76,343.06 L225.53,343.18 L226.30,343.29 L227.07,343.41 L227.84,343.52 L228.62,343.64 L229.39,343.76 L230.16,343.87 L230.94,343.99 L231.71,344.11 L232.48,344.23 L233.26,344.35 L234.03,344.47 L234.81,344.58 L235.58,344.70 L236.35,344.83 L237.13,344.95 L237.90,345.07 L238.68,345.19 L239.46,345.31 L240.23,345.43 L241.01,345.56 L241.78,345.68 L242.56,345.81 L243.33,345.93 L244.11,346.06 L244.89,346.18 L245.66,346.31 L246.44,346.44 L247.21,346.57 L247.99,346.70 L248.77,346.83 L249.54,346.96 L250.32,347.09 L251.10,347.22 L251.87,347.35 L252.65,347.48 L253.43,347.62 L254.20,347.75 L254.98,347.89 L255.75,348.02 L256.53,348.16 L257.31,348.30 L258.08,348.43 L258.86,348.57 L259.64,348.71 L260.41,348.85 L261.19,349.00 L261.96,349.14 L262.74,349.28 L263.52,349.43 L264.29,349.57 L265.07,349.72 L265.84,349.86 L266.62,350.01 L267.39,350.16 L268.17,350.31 L268.94,350.46 L269.72,350.61 L270.49,350.76 L271.26,350.92 L272.04,351.07 L272.81,351.23 L273.58,351.38 L274.36,351.54 L275.13,351.70 L275.90,351.86 L276.68,352.02 L277.45,352.18 L278.22,352.34 L278.99,352.51 L279.76,352.67 L280.54,352.84 L281.31,353.01 L282.08,353.17 L282.85,353.34 L283.62,353.51 L284.39,353.69 L285.16,353.86 L285.92,354.03 L286.69,354.21 L287.46,354.39 L288.23,354.56 L289.00,354.74 L289.76,354.92 L290.53,355.11 L291.30,355.29 L292.06,355.47 L292.83,355.66 L293.59,355.85 L294.36,356.03 L295.12,356.22 L295.89,356.41 L296.65,356.61 L297.41,356.80 L298.17,357.00 L298.94,357.19 L299.70,357.39 L300.46,357.59 L301.22,357.79 L301.98,357.99 L302.74,358.20 L303.50,358.40 L304.25,358.61 L305.01,358.82 L305.77,359.02 L306.53,359.24 L307.28,359.45 L308.04,359.66 L308.79,359.88 L309.55,360.10 L310.30,360.31 L311.05,360.53 L311.81,360.76 L312.56,360.98 L313.31,361.21 L314.06,361.43 L314.81,361.66 L315.56,361.89 L316.31,362.12 L317.05,362.36 L317.80,362.59 L318.55,362.83 L319.29,363.07 L320.04,363.31 L320.78,363.55 L321.53,363.79 L322.27,364.04 L323.01,364.28 L323.75,364.53 L324.49,364.78 L325.23,365.04 L325.97,365.29 L326.71,365.55 L327.45,365.80 L328.18,366.06 L328.92,366.33 L329.66,366.59 L330.39,366.85 L331.12,367.12 L331.86,367.39 L332.59,367.66 L333.32,367.94 L334.05,368.21 L334.78,368.49 L335.51,368.77 L336.23,369.05 L336.96,369.33 L337.68,369.61 L338.41,369.90 L339.13,370.19 L339.86,370.48 L340.58,370.77 L341.30,371.07 L342.02,371.36 L342.74,371.66 L343.46,371.96 L344.17,372.27 L344.89,372.57 L345.60,372.88 L346.32,373.19 L347.03,373.50 L347.74,373.82 L348.45,374.13 L349.16,374.45 L349.87,374.77 L350.58,375.09 L351.29,375.42 L351.99,375.74 L352.70,376.07 L353.40,376.40 L354.10,376.74 L354.80,377.07 L355.51,377.41 L356.20,377.75 L356.90,378.10 L357.60,378.44 L358.29,378.79 L358.99,379.14 L359.68,379.49 L360.38,379.84 L361.07,380.20 L361.76,380.56 L362.45,380.92 L363.13,381.29 L363.82,381.65 L364.50,382.02 L365.19,382.39 L365.87,382.77 L366.55,383.14 L367.23,383.52 L367.91,383.90 L368.59,384.28 L369.27,384.67 L369.94,385.06 L370.61,385.45 L371.29,385.84 L371.96,386.24 L372.63,386.64 L373.30,387.04 L373.96,387.44 L374.63,387.85 L375.29,388.26 L375.96,388.67 L376.62,389.08 L377.28,389.50 L377.94,389.92 L378.60,390.34 L379.25,390.77 L379.91,391.20 L380.56,391.63 L381.21,392.06 L381.87,392.50 L382.51,392.93 L383.16,393.37 L383.81,393.82 L384.45,394.27 L385.10,394.72 L385.74,395.17 L386.38,395.62 L387.02,396.08 L387.66,396.54 L388.29,397.00 L388.93,397.47 L389.56,397.94 L390.19,398.41 L390.82,398.89 L391.45,399.37 L392.08,399.85 L392.70,400.33 L393.33,400.82 L393.95,401.31 L394.57,401.80 L395.19,402.29 L395.81,402.79 L396.42,403.29 L397.04,403.80 L397.65,404.31 L398.26,404.82 L398.87,405.33 L399.48,405.85 L400.08,406.37 L400.69,406.89 L401.29,407.41 L401.89,407.94 L402.49,408.47 L403.09,409.01 L403.68,409.55 L404.28,410.09" fill="none" stroke="#0000ff" stroke-linecap="round" stroke-linejoin="round" stroke-width="2.3" stroke-dasharray="13.0 18.6" stroke-dashoffset="0.0"/><path d="M113.78,317.45 L113.97,318.28 L114.23,319.05 L114.56,319.76 L114.96,320.42 L115.42,321.03 L115.92,321.60 L116.47,322.12 L117.06,322.61 L117.67,323.08 L118.31,323.51 L118.97,323.92 L119.63,324.31 L120.30,324.69 L120.99,325.05 L121.68,325.40 L122.37,325.72 L123.08,326.04 L123.79,326.34 L124.51,326.62 L125.24,326.90 L125.97,327.16 L126.71,327.41 L127.45,327.64 L128.20,327.87 L128.96,328.09 L129.72,328.29 L130.48,328.49 L131.25,328.68 L132.02,328.86 L132.79,329.04 L133.57,329.21 L134.35,329.37 L135.13,329.52 L135.91,329.68 L136.70,329.82 L137.48,329.97 L138.27,330.11 L139.06,330.24 L139.84,330.38 L140.63,330.51 L141.42,330.64 L142.20,330.78 L142.99,330.91 L143.78,331.04 L144.56,331.17 L145.35,331.30 L146.13,331.43 L146.91,331.56 L147.70,331.68 L148.48,331.81 L149.26,331.94 L150.04,332.06 L150.82,332.19 L151.60,332.32 L152.38,332.44 L153.16,332.56 L153.94,332.69 L154.72,332.81 L155.50,332.93 L156.28,333.06 L157.06,333.18 L157.83,333.30 L158.61,333.42 L159.39,333.54 L160.16,333.66 L160.94,333.78 L161.71,333.90 L162.49,334.02 L163.26,334.13 L164.04,334.25 L164.81,334.37 L165.58,334.49 L166.36,334.60 L167.13,334.72 L167.90,334.84 L168.67,334.95 L169.44,335.07 L170.22,335.18 L170.99,335.30 L171.76,335.41 L172.53,335.52 L173.30,335.64 L174.07,335.75 L174.84,335.86 L175.61,335.98 L176.38,336.09 L177.15,336.20 L177.92,336.31 L178.69,336.43 L179.46,336.54 L180.23,336.65 L180.99,336.76 L181.76,336.87 L182.53,336.98 L183.30,337.09 L184.07,337.20 L184.83,337.32 L185.60,337.43 L186.37,337.54 L187.14,337.65 L187.90,337.76 L188.67,337.87 L189.44,337.98 L190.20,338.08 L190.97,338.19 L191.74,338.30 L192.50,338.41 L193.27,338.52 L194.04,338.63 L194.80,338.74 L195.57,338.85 L196.34,338.96 L197.10,339.07 L197.87,339.18 L198.64,339.29 L199.40,339.40 L200.17,339.51 L200.94,339.61 L201.70,339.72 L202.47,339.83 L203.24,339.94 L204.00,340.05 L204.77,340.16 L205.54,340.27 L206.30,340.38 L207.07,340.49 L207.84,340.60 L208.61,340.71 L209.37,340.82 L210.14,340.93 L210.91,341.04 L211.68,341.15 L212.44,341.26 L213.21,341.37 L213.98,341.48 L214.75,341.60 L215.52,341.71 L216.29,341.82 L217.06,341.93 L217.82,342.04 L218.59,342.15 L219.36,342.27 L220.13,342.38 L220.90,342.49 L221.67,342.61 L222.44,342.72 L223.21,342.83 L223.99,342.95 L224.76,343.06 L225.53,343.18 L226.30,343.29 L227.07,343.41 L227.84,343.52 L228.62,343.64 L229.39,343.76 L230.16,343.87 L230.94,343.99 L231.71,344.11 L232.48,344.23 L233.26,344.35 L234.03,344.47 L234.81,344.58 L235.58,344.70 L236.35,344.83 L237.13,344.95 L237.90,345.07 L238.68,345.19 L239.46,345.31 L240.23,345.43 L241.01,345.56 L241.78,345.68 L242.56,345.81 L243.33,345.93 L244.11,346.06 L244.89,346.18 L245.66,346.31 L246.44,346.44 L247.21,346.57 L247.99,346.70 L248.77,346.83 L249.54,346.96 L250.32,347.09 L251.10,347.22 L251.87,347.35 L252.65,347.48 L253.43,347.62 L254.20,347.75 L254.98,347.89 L255.75,348.02 L256.53,348.16 L257.31,348.30 L258.08,348.43 L258.86,348.57 L259.64,348.71 L260.41,348.85 L261.19,349.00 L261.96,349.14 L262.74,349.28 L263.52,349.43 L264.29,349.57 L265.07,349.72 L265.84,349.86 L266.62,350.01 L267.39,350.16 L268.17,350.31 L268.94,350.46 L269.72,350.61 L270.49,350.76 L271.26,350.92 L272.04,351.07 L272.81,351.23 L273.58,351.38 L274.36,351.54 L275.13,351.70 L275.90,351.86 L276.68,352.02 L277.45,352.18 L278.22,352.34 L278.99,352.51 L279.76,352.67 L280.54,352.84 L281.31,353.01 L282.08,353.17 L282.85,353.34 L283.62,353.51 L284.39,353.69 L285.16,353.86 L285.92,354.03 L286.69,354.21 L287.46,354.39 L288.23,354.56 L289.00,354.74 L289.76,354.92 L290.53,355.11 L291.30,355.29 L292.06,355.47 L292.83,355.66 L293.59,355.85 L294.36,356.03 L295.12,356.22 L295.89,356.41 L296.65,356.61 L297.41,356.80 L298.17,357.00 L298.94,357.19 L299.70,357.39 L300.46,357.59 L301.22,357.79 L301.98,357.99 L302.74,358.20 L303.50,358.40 L304.25,358.61 L305.01,358.82 L305.77,359.02 L306.53,359.24 L307.28,359.45 L308.04,359.66 L308.79,359.88 L309.55,360.10 L310.30,360.31 L311.05,360.53 L311.81,360.76 L312.56,360.98 L313.31,361.21 L314.06,361.43 L314.81,361.66 L315.56,361.89 L316.31,362.12 L317.05,362.36 L317.80,362.59 L318.55,362.83 L319.29,363.07 L320.04,363.31 L320.78,363.55 L321.53,363.79 L322.27,364.04 L323.01,364.28 L323.75,364.53 L324.49,364.78 L325.23,365.04 L325.97,365.29 L326.71,365.55 L327.45,365.80 L328.18,366.06 L328.92,366.33 L329.66,366.59 L330.39,366.85 L331.12,367.12 L331.86,367.39 L332.59,367.66 L333.32,367.94 L334.05,368.21 L334.78,368.49 L335.51,368.77 L336.23,369.05 L336.96,369.33 L337.68,369.61 L338.41,369.90 L339.13,370.19 L339.86,370.48 L340.58,370.77 L341.30,371.07 L342.02,371.36 L342.74,371.66 L343.46,371.96 L344.17,372.27 L344.89,372.57 L345.60,372.88 L346.32,373.19 L347.03,373.50 L347.74,373.82 L348.45,374.13 L349.16,374.45 L349.87,374.77 L350.58,375.09 L351.29,375.42 L351.99,375.74 L352.70,376.07 L353.40,376.40 L354.10,376.74 L354.80,377.07 L355.51,377.41 L356.20,377.75 L356.90,378.10 L357.60,378.44 L358.29,378.79 L358.99,379.14 L359.68,379.49 L360.38,379.84 L361.07,380.20 L361.76,380.56 L362.45,380.92 L363.13,381.29 L363.82,381.65 L364.50,382.02 L365.19,382.39 L365.87,382.77 L366.55,383.14 L367.23,383.52 L367.91,383.90 L368.59,384.28 L369.27,384.67 L369.94,385.06 L370.61,385.45 L371.29,385.84 L371.96,386.24 L372.63,386.64 L373.30,387.04 L373.96,387.44 L374.63,387.85 L375.29,388.26 L375.96,388.67 L376.62,389.08 L377.28,389.50 L377.94,389.92 L378.60,390.34 L379.25,390.77 L379.91,391.20 L380.56,391.63 L381.21,392.06 L381.87,392.50 L382.51,392.93 L383.16,393.37 L383.81,393.82 L384.45,394.27 L385.10,394.72 L385.74,395.17 L386.38,395.62 L387.02,396.08 L387.66,396.54 L388.29,397.00 L388.93,397.47 L389.56,397.94 L390.19,398.41 L390.82,398.89 L391.45,399.37 L392.08,399.85 L392.70,400.33 L393.33,400.82 L393.95,401.31 L394.57,401.80 L395.19,402.29 L395.81,402.79 L396.42,403.29 L397.04,403.80 L397.65,404.31 L398.26,404.82 L398.87,405.33 L399.48,405.85 L400.08,406.37 L400.69,406.89 L401.29,407.41 L401.89,407.94 L402.49,408.47 L403.09,409.01 L403.68,409.55 L404.28,410.09" fill="none" stroke="#0000ff" stroke-linecap="round" stroke-linejoin="round" stroke-width="2.7" stroke-dasharray="0.01 31.59" stroke-dashoffset="-22.9"/>
<rect x="104.7" y="586.10" width="1.9" height="190.80" fill="#000"/>
<rect x="104.8" y="775.50" width="308.00" height="1.4" fill="#000"/>
<rect x="104.7" y="586.15" width="4.3" height="1.4" fill="#000"/>
<rect x="105" y="652.42" width="3.1" height="1.2" fill="#000"/>
<rect x="105" y="635.75" width="3.1" height="1.2" fill="#000"/>
<rect x="105" y="623.92" width="3.1" height="1.2" fill="#000"/>
<rect x="105" y="614.75" width="3.1" height="1.2" fill="#000"/>
<rect x="105" y="607.25" width="3.1" height="1.2" fill="#000"/>
<rect x="105" y="600.92" width="3.1" height="1.2" fill="#000"/>
<rect x="105" y="595.42" width="3.1" height="1.2" fill="#000"/>
<rect x="105" y="590.58" width="3.1" height="1.2" fill="#000"/>
<rect x="104.7" y="680.82" width="4.3" height="1.4" fill="#000"/>
<rect x="105" y="747.10" width="3.1" height="1.2" fill="#000"/>
<rect x="105" y="730.43" width="3.1" height="1.2" fill="#000"/>
<rect x="105" y="718.60" width="3.1" height="1.2" fill="#000"/>
<rect x="105" y="709.43" width="3.1" height="1.2" fill="#000"/>
<rect x="105" y="701.93" width="3.1" height="1.2" fill="#000"/>
<rect x="105" y="695.59" width="3.1" height="1.2" fill="#000"/>
<rect x="105" y="690.10" width="3.1" height="1.2" fill="#000"/>
<rect x="105" y="685.26" width="3.1" height="1.2" fill="#000"/>
<rect x="104.7" y="775.50" width="4.3" height="1.4" fill="#000"/>
<rect x="112.30" y="773.50" width="1.2" height="3.8" fill="#000"/>
<rect x="124.09" y="774.50" width="1.0" height="2" fill="#000"/>
<rect x="135.77" y="774.50" width="1.0" height="2" fill="#000"/>
<rect x="147.46" y="774.50" width="1.0" height="2" fill="#000"/>
<rect x="159.14" y="774.50" width="1.0" height="2" fill="#000"/>
<rect x="170.73" y="773.50" width="1.2" height="3.8" fill="#000"/>
<rect x="182.52" y="774.50" width="1.0" height="2" fill="#000"/>
<rect x="194.20" y="774.50" width="1.0" height="2" fill="#000"/>
<rect x="205.89" y="774.50" width="1.0" height="2" fill="#000"/>
<rect x="217.57" y="774.50" width="1.0" height="2" fill="#000"/>
<rect x="229.16" y="773.50" width="1.2" height="3.8" fill="#000"/>
<rect x="240.95" y="774.50" width="1.0" height="2" fill="#000"/>
<rect x="252.63" y="774.50" width="1.0" height="2" fill="#000"/>
<rect x="264.32" y="774.50" width="1.0" height="2" fill="#000"/>
<rect x="276.00" y="774.50" width="1.0" height="2" fill="#000"/>
<rect x="287.59" y="773.50" width="1.2" height="3.8" fill="#000"/>
<rect x="299.38" y="774.50" width="1.0" height="2" fill="#000"/>
<rect x="311.06" y="774.50" width="1.0" height="2" fill="#000"/>
<rect x="322.75" y="774.50" width="1.0" height="2" fill="#000"/>
<rect x="334.43" y="774.50" width="1.0" height="2" fill="#000"/>
<rect x="346.02" y="773.50" width="1.2" height="3.8" fill="#000"/>
<rect x="357.81" y="774.50" width="1.0" height="2" fill="#000"/>
<rect x="369.49" y="774.50" width="1.0" height="2" fill="#000"/>
<rect x="381.18" y="774.50" width="1.0" height="2" fill="#000"/>
<rect x="392.86" y="774.50" width="1.0" height="2" fill="#000"/>
<rect x="404.45" y="773.50" width="1.2" height="3.8" fill="#000"/>
<text transform="translate(210.00,578.70) scale(1.07,1)" font-size="16.2" letter-spacing="0.514" font-weight="normal" fill="#000" stroke="#fff" stroke-width="0.22" >E/T ratio</text>
<text transform="translate(210.30,809.60) scale(1.07,1)" font-size="16.2" letter-spacing="0.514" font-weight="normal" fill="#000" stroke="#fff" stroke-width="0.22" >time, min</text>
<g transform="translate(53.3,681.40) rotate(-90)"><text transform="translate(-81.85,0.00) scale(1.07,1)" font-size="16.2" letter-spacing="0.514" font-weight="normal" fill="#000" stroke="#fff" stroke-width="0.22" >pulsed/unpulsed</text></g>
<text transform="translate(107.80,792.60) scale(1.07,1)" font-size="16.2" letter-spacing="0.514" font-weight="normal" fill="#000" stroke="#fff" stroke-width="0.22" >0</text><ellipse cx="113.00" cy="787.26" rx="1.73" ry="2.75" fill="#fff"/>
<text transform="translate(160.75,792.60) scale(1.07,1)" font-size="16.2" letter-spacing="0.514" font-weight="normal" fill="#000" stroke="#fff" stroke-width="0.22" >50</text><ellipse cx="176.91" cy="787.26" rx="1.73" ry="2.75" fill="#fff"/>
<text transform="translate(213.71,792.60) scale(1.07,1)" font-size="16.2" letter-spacing="0.514" font-weight="normal" fill="#000" stroke="#fff" stroke-width="0.22" >100</text><ellipse cx="229.86" cy="787.26" rx="1.73" ry="2.75" fill="#fff"/><ellipse cx="240.81" cy="787.26" rx="1.73" ry="2.75" fill="#fff"/>
<text transform="translate(272.14,792.60) scale(1.07,1)" font-size="16.2" letter-spacing="0.514" font-weight="normal" fill="#000" stroke="#fff" stroke-width="0.22" >150</text><ellipse cx="299.24" cy="787.26" rx="1.73" ry="2.75" fill="#fff"/>
<text transform="translate(330.57,792.60) scale(1.07,1)" font-size="16.2" letter-spacing="0.514" font-weight="normal" fill="#000" stroke="#fff" stroke-width="0.22" >200</text><ellipse cx="346.72" cy="787.26" rx="1.73" ry="2.75" fill="#fff"/><ellipse cx="357.67" cy="787.26" rx="1.73" ry="2.75" fill="#fff"/>
<text transform="translate(389.00,792.60) scale(1.07,1)" font-size="16.2" letter-spacing="0.514" font-weight="normal" fill="#000" stroke="#fff" stroke-width="0.22" >250</text><ellipse cx="416.10" cy="787.26" rx="1.73" ry="2.75" fill="#fff"/>
<text transform="translate(69.20,592.75) scale(1.07,1)" font-size="16.2" letter-spacing="0.514" font-weight="normal" fill="#000" stroke="#fff" stroke-width="0.22" >10</text><ellipse cx="85.35" cy="587.41" rx="1.73" ry="2.75" fill="#fff"/>
<text transform="translate(94.85,586.15) scale(1.07,1)" font-size="12.6" text-anchor="middle" fill="#000" stroke="#fff" stroke-width="0.22">0</text><ellipse cx="94.85" cy="582.00" rx="1.35" ry="2.14" fill="#fff"/>
<text transform="translate(60.40,687.42) scale(1.07,1)" font-size="16.2" letter-spacing="0.514" font-weight="normal" fill="#000" stroke="#fff" stroke-width="0.22" >10</text><ellipse cx="76.55" cy="682.09" rx="1.73" ry="2.75" fill="#fff"/>
<rect x="83.0" y="677.27" width="4.4" height="0.9" fill="#000"/>
<text transform="translate(94.95,680.82) scale(1.07,1)" font-size="12.6" text-anchor="middle" fill="#000" stroke="#fff" stroke-width="0.22">1</text>
<text transform="translate(60.40,782.10) scale(1.07,1)" font-size="16.2" letter-spacing="0.514" font-weight="normal" fill="#000" stroke="#fff" stroke-width="0.22" >10</text><ellipse cx="76.55" cy="776.76" rx="1.73" ry="2.75" fill="#fff"/>
<rect x="83.0" y="771.95" width="4.4" height="0.9" fill="#000"/>
<text transform="translate(94.95,775.50) scale(1.07,1)" font-size="12.6" text-anchor="middle" fill="#000" stroke="#fff" stroke-width="0.22">2</text>
<path d="M37.6,569.8 C36.6,566.1 28.2,565.5 28.2,571.8 C28.2,577.9 36.2,577.5 38.4,574.2 M37.7,566.2 V570.2" fill="none" stroke="#000" stroke-width="2.4" stroke-linejoin="round"/>
<line x1="113.2" y1="729.4" x2="148.5" y2="729.4" stroke="#000" stroke-width="1.3"/>
<path d="M115.1,742.9 h4.9 M132.3,742.9 h4.7" stroke="#ff0000" stroke-width="1.3"/>
<path d="M113.2,756.2 h8.7 M130.20000000000002,756.2 h8.6" stroke="#00ff00" stroke-width="1.3"/>
<path d="M115.1,769.1 h4.9 M132.3,769.1 h4.7" stroke="#0000ff" stroke-width="1.3"/><circle cx="126.2" cy="768.4" r="1.65" fill="#0000ff"/>
<text transform="translate(145.11,732.70) scale(1.1,1)" font-size="12.4" letter-spacing="0.333" font-weight="bold" fill="#000000"  >cT=0</text><ellipse cx="174.85" cy="728.61" rx="1.16" ry="1.98" fill="#fff"/>
<text transform="translate(145.11,745.70) scale(1.1,1)" font-size="12.4" letter-spacing="0.333" font-weight="bold" fill="#ff0000"  >cT=5000</text><ellipse cx="183.40" cy="741.61" rx="1.16" ry="1.98" fill="#fff"/><ellipse cx="191.95" cy="741.61" rx="1.16" ry="1.98" fill="#fff"/><ellipse cx="200.50" cy="741.61" rx="1.16" ry="1.98" fill="#fff"/>
<text transform="translate(145.11,759.10) scale(1.1,1)" font-size="12.4" letter-spacing="0.333" font-weight="bold" fill="#00ff00"  >cT=10000</text><ellipse cx="183.40" cy="755.01" rx="1.16" ry="1.98" fill="#fff"/><ellipse cx="191.95" cy="755.01" rx="1.16" ry="1.98" fill="#fff"/><ellipse cx="200.50" cy="755.01" rx="1.16" ry="1.98" fill="#fff"/><ellipse cx="209.05" cy="755.01" rx="1.16" ry="1.98" fill="#fff"/>
<text transform="translate(145.11,772.30) scale(1.1,1)" font-size="12.4" letter-spacing="0.333" font-weight="bold" fill="#0000ff"  >cT=15000</text><ellipse cx="191.95" cy="768.21" rx="1.16" ry="1.98" fill="#fff"/><ellipse cx="200.50" cy="768.21" rx="1.16" ry="1.98" fill="#fff"/><ellipse cx="209.05" cy="768.21" rx="1.16" ry="1.98" fill="#fff"/>
<path d="M112.88,586.93 L113.05,587.64 L113.21,588.36 L113.38,589.07 L113.54,589.79 L113.71,590.50 L113.88,591.22 L114.05,591.94 L114.22,592.65 L114.39,593.37 L114.56,594.08 L114.74,594.80 L114.91,595.52 L115.09,596.24 L115.26,596.95 L115.44,597.67 L115.62,598.39 L115.80,599.11 L115.98,599.82 L116.17,600.54 L116.35,601.26 L116.54,601.98 L116.72,602.69 L116.91,603.41 L117.10,604.13 L117.29,604.84 L117.49,605.56 L117.68,606.28 L117.88,606.99 L118.07,607.71 L118.27,608.43 L118.48,609.14 L118.68,609.86 L118.88,610.57 L119.09,611.29 L119.30,612.00 L119.51,612.72 L119.72,613.43 L119.93,614.14 L120.15,614.85 L120.37,615.57 L120.59,616.28 L120.81,616.99 L121.03,617.70 L121.26,618.41 L121.49,619.12 L121.72,619.83 L121.95,620.54 L122.19,621.24 L122.42,621.95 L122.66,622.65 L122.91,623.36 L123.15,624.06 L123.40,624.77 L123.65,625.47 L123.90,626.17 L124.15,626.87 L124.41,627.57 L124.67,628.27 L124.93,628.97 L125.19,629.67 L125.46,630.36 L125.73,631.06 L126.00,631.75 L126.28,632.44 L126.56,633.14 L126.84,633.83 L127.12,634.52 L127.41,635.21 L127.70,635.89 L127.99,636.58 L128.28,637.26 L128.58,637.95 L128.88,638.63 L129.19,639.31 L129.49,639.99 L129.80,640.67 L130.11,641.34 L130.43,642.02 L130.75,642.69 L131.07,643.36 L131.39,644.03 L131.72,644.70 L132.05,645.36 L132.38,646.03 L132.72,646.69 L133.06,647.35 L133.40,648.01 L133.75,648.67 L134.10,649.32 L134.45,649.98 L134.80,650.63 L135.16,651.28 L135.52,651.92 L135.89,652.57 L136.26,653.21 L136.63,653.85 L137.00,654.49 L137.38,655.13 L137.76,655.76 L138.14,656.40 L138.53,657.03 L138.92,657.65 L139.31,658.28 L139.71,658.90 L140.11,659.52 L140.51,660.14 L140.92,660.75 L141.33,661.36 L141.75,661.97 L142.16,662.58 L142.58,663.19 L143.01,663.79 L143.43,664.39 L143.86,664.98 L144.30,665.58 L144.74,666.17 L145.18,666.75 L145.62,667.34 L146.07,667.92 L146.52,668.50 L146.98,669.08 L147.44,669.65 L147.90,670.22 L148.36,670.78 L148.83,671.35 L149.31,671.91 L149.78,672.47 L150.26,673.02 L150.75,673.57 L151.24,674.12 L151.73,674.66 L152.22,675.20 L152.72,675.74 L153.22,676.27 L153.73,676.80 L154.24,677.33 L154.75,677.85 L155.27,678.37 L155.79,678.89 L156.32,679.40 L156.84,679.91 L157.38,680.41 L157.91,680.92 L158.45,681.41 L158.99,681.91 L159.54,682.40 L160.09,682.89 L160.64,683.37 L161.19,683.85 L161.75,684.33 L162.31,684.81 L162.88,685.28 L163.45,685.75 L164.02,686.21 L164.59,686.67 L165.17,687.13 L165.75,687.59 L166.33,688.04 L166.91,688.49 L167.50,688.94 L168.09,689.38 L168.68,689.82 L169.27,690.26 L169.87,690.70 L170.47,691.13 L171.07,691.56 L171.68,691.98 L172.28,692.41 L172.89,692.83 L173.50,693.25 L174.11,693.66 L174.72,694.07 L175.34,694.48 L175.96,694.89 L176.58,695.30 L177.20,695.70 L177.82,696.10 L178.45,696.50 L179.07,696.89 L179.70,697.28 L180.33,697.67 L180.96,698.06 L181.59,698.44 L182.22,698.83 L182.86,699.21 L183.49,699.58 L184.13,699.96 L184.77,700.33 L185.41,700.70 L186.05,701.07 L186.69,701.44 L187.34,701.80 L187.98,702.16 L188.63,702.52 L189.28,702.88 L189.92,703.23 L190.57,703.59 L191.23,703.94 L191.88,704.29 L192.53,704.63 L193.19,704.98 L193.84,705.32 L194.50,705.66 L195.16,706.00 L195.82,706.33 L196.48,706.67 L197.14,707.00 L197.81,707.33 L198.47,707.66 L199.14,707.98 L199.80,708.31 L200.47,708.63 L201.14,708.95 L201.81,709.27 L202.48,709.58 L203.15,709.90 L203.82,710.21 L204.50,710.52 L205.17,710.83 L205.85,711.14 L206.52,711.44 L207.20,711.75 L207.88,712.05 L208.56,712.35 L209.24,712.65 L209.92,712.94 L210.60,713.24 L211.28,713.53 L211.97,713.82 L212.65,714.11 L213.34,714.40 L214.03,714.69 L214.71,714.97 L215.40,715.25 L216.09,715.54 L216.78,715.82 L217.47,716.10 L218.16,716.37 L218.85,716.65 L219.55,716.92 L220.24,717.20 L220.93,717.47 L221.63,717.74 L222.32,718.01 L223.02,718.27 L223.72,718.54 L224.41,718.80 L225.11,719.07 L225.81,719.33 L226.51,719.59 L227.21,719.85 L227.91,720.11 L228.61,720.36 L229.31,720.62 L230.02,720.87 L230.72,721.12 L231.42,721.38 L232.13,721.63 L232.83,721.88 L233.54,722.12 L234.24,722.37 L234.95,722.62 L235.65,722.86 L236.36,723.11 L237.07,723.35 L237.78,723.59 L238.48,723.83 L239.19,724.07 L239.90,724.31 L240.61,724.55 L241.32,724.78 L242.03,725.02 L242.74,725.25 L243.45,725.49 L244.16,725.72 L244.88,725.95 L245.59,726.18 L246.30,726.41 L247.01,726.64 L247.72,726.87 L248.44,727.10 L249.15,727.32 L249.86,727.55 L250.58,727.77 L251.29,728.00 L252.01,728.22 L252.72,728.45 L253.43,728.67 L254.15,728.89 L254.86,729.11 L255.58,729.33 L256.29,729.55 L257.01,729.77 L257.72,729.99 L258.44,730.21 L259.15,730.42 L259.87,730.64 L260.59,730.86 L261.30,731.07 L262.02,731.29 L262.73,731.50 L263.45,731.72 L264.16,731.93 L264.88,732.15 L265.59,732.36 L266.31,732.57 L267.03,732.78 L267.74,732.99 L268.46,733.21 L269.17,733.42 L269.89,733.63 L270.60,733.84 L271.32,734.05 L272.03,734.26 L272.75,734.47 L273.46,734.68 L274.18,734.89 L274.89,735.10 L275.61,735.30 L276.32,735.51 L277.03,735.72 L277.75,735.93 L278.46,736.13 L279.18,736.34 L279.89,736.55 L280.60,736.75 L281.32,736.96 L282.03,737.16 L282.75,737.37 L283.46,737.57 L284.17,737.78 L284.89,737.98 L285.60,738.19 L286.31,738.39 L287.03,738.59 L287.74,738.80 L288.45,739.00 L289.17,739.20 L289.88,739.40 L290.59,739.60 L291.31,739.80 L292.02,740.00 L292.73,740.20 L293.45,740.40 L294.16,740.60 L294.87,740.80 L295.58,741.00 L296.30,741.20 L297.01,741.40 L297.72,741.59 L298.44,741.79 L299.15,741.99 L299.86,742.18 L300.58,742.38 L301.29,742.58 L302.00,742.77 L302.71,742.97 L303.43,743.16 L304.14,743.35 L304.85,743.55 L305.57,743.74 L306.28,743.93 L306.99,744.12 L307.71,744.32 L308.42,744.51 L309.13,744.70 L309.85,744.89 L310.56,745.08 L311.27,745.27 L311.99,745.46 L312.70,745.65 L313.41,745.83 L314.13,746.02 L314.84,746.21 L315.56,746.40 L316.27,746.58 L316.98,746.77 L317.70,746.95 L318.41,747.14 L319.13,747.32 L319.84,747.51 L320.55,747.69 L321.27,747.88 L321.98,748.06 L322.70,748.24 L323.41,748.42 L324.13,748.60 L324.84,748.78 L325.56,748.96 L326.27,749.14 L326.99,749.32 L327.70,749.50 L328.42,749.68 L329.13,749.86 L329.85,750.04 L330.57,750.21 L331.28,750.39 L332.00,750.57 L332.71,750.74 L333.43,750.92 L334.15,751.09 L334.86,751.26 L335.58,751.44 L336.30,751.61 L337.02,751.78 L337.73,751.95 L338.45,752.13 L339.17,752.30 L339.89,752.47 L340.60,752.64 L341.32,752.81 L342.04,752.97 L342.76,753.14 L343.48,753.31 L344.20,753.48 L344.92,753.64 L345.63,753.81 L346.35,753.97 L347.07,754.14 L347.79,754.30 L348.51,754.47 L349.23,754.63 L349.95,754.79 L350.67,754.95 L351.40,755.11 L352.12,755.28 L352.84,755.44 L353.56,755.60 L354.28,755.75 L355.00,755.91 L355.72,756.07 L356.45,756.23 L357.17,756.38 L357.89,756.54 L358.62,756.70 L359.34,756.85 L360.06,757.00 L360.79,757.16 L361.51,757.31 L362.23,757.46 L362.96,757.62 L363.68,757.77 L364.41,757.92 L365.13,758.07 L365.86,758.22 L366.59,758.37 L367.31,758.51 L368.04,758.66 L368.77,758.81 L369.49,758.95 L370.22,759.10 L370.95,759.24 L371.67,759.39 L372.40,759.53 L373.13,759.68 L373.86,759.82 L374.59,759.96 L375.32,760.10 L376.05,760.24 L376.78,760.38 L377.51,760.52 L378.24,760.66 L378.97,760.80 L379.70,760.93 L380.43,761.07 L381.16,761.21 L381.90,761.34 L382.63,761.48 L383.36,761.61 L384.10,761.74 L384.83,761.87 L385.56,762.01 L386.30,762.14 L387.03,762.27 L387.77,762.40 L388.50,762.53 L389.24,762.65 L389.97,762.78 L390.71,762.91 L391.45,763.03 L392.18,763.16 L392.92,763.28 L393.66,763.41 L394.40,763.53 L395.14,763.65 L395.87,763.78 L396.61,763.90 L397.35,764.02 L398.09,764.14 L398.83,764.26 L399.58,764.37 L400.32,764.49 L401.06,764.61 L401.80,764.72 L402.54,764.84 L403.29,764.95 L404.03,765.07 L404.77,765.18" fill="none" stroke="#000000" stroke-linecap="round" stroke-linejoin="round" stroke-width="2.3"/>
<path d="M112.80,592.50 L112.78,593.04 L112.76,593.58 L112.74,594.12 L112.73,594.67 L112.72,595.21 L112.71,595.75 L112.71,596.29 L112.70,596.83 L112.71,597.36 L112.71,597.90 L112.71,598.44 L112.72,598.98 L112.73,599.52 L112.74,600.06 L112.76,600.60 L112.77,601.13 L112.79,601.67 L112.81,602.21 L112.83,602.75 L112.85,603.28 L112.87,603.82 L112.90,604.36 L112.92,604.90 L112.95,605.44 L112.98,605.97 L113.00,606.51 L113.03,607.05 L113.06,607.59 L113.09,608.13 L113.11,608.67 L113.14,609.20 L113.17,609.74 L113.19,610.28 L113.22,610.82 L113.24,611.36 L113.26,611.91 L113.29,612.45 L113.31,612.99 L113.34,613.53 L113.36,614.07 L113.39,614.61 L113.43,615.15 L113.46,615.69 L113.50,616.23 L113.55,616.77 L113.60,617.30 L113.65,617.84 L113.72,618.38 L113.78,618.91 L113.86,619.44 L113.95,619.98 L114.04,620.51 L114.14,621.04 L114.25,621.56 L114.37,622.09 L114.50,622.61 L114.64,623.13 L114.78,623.65 L114.94,624.17 L115.10,624.68 L115.28,625.19 L115.46,625.69 L115.65,626.20 L115.86,626.69 L116.07,627.19 L116.29,627.68 L116.52,628.17 L116.76,628.65 L117.01,629.13 L117.26,629.60 L117.53,630.08 L117.80,630.54 L118.08,631.01 L118.37,631.47 L118.67,631.92 L118.97,632.37 L119.27,632.82 L119.59,633.27 L119.91,633.71 L120.23,634.15 L120.56,634.58 L120.89,635.01 L121.23,635.44 L121.57,635.87 L121.92,636.29 L122.27,636.70 L122.62,637.12 L122.98,637.53 L123.33,637.94 L123.69,638.34 L124.05,638.74 L124.42,639.14 L124.78,639.54 L125.14,639.93 L125.51,640.32 L125.88,640.71 L126.25,641.09 L126.62,641.48 L126.99,641.86 L127.36,642.24 L127.74,642.61 L128.11,642.98 L128.49,643.36 L128.87,643.73 L129.25,644.10 L129.63,644.46 L130.01,644.83 L130.39,645.19 L130.78,645.55 L131.16,645.92 L131.55,646.28 L131.94,646.64 L132.33,646.99 L132.72,647.35 L133.11,647.71 L133.51,648.06 L133.90,648.42 L134.30,648.77 L134.70,649.12 L135.09,649.48 L135.49,649.83 L135.89,650.18 L136.29,650.53 L136.70,650.88 L137.10,651.23 L137.50,651.57 L137.91,651.92 L138.31,652.27 L138.72,652.62 L139.13,652.96 L139.53,653.31 L139.94,653.65 L140.35,654.00 L140.76,654.35 L141.17,654.69 L141.58,655.04 L141.99,655.38 L142.40,655.73 L142.82,656.07 L143.23,656.42 L143.64,656.76 L144.05,657.10 L144.47,657.45 L144.88,657.79 L145.30,658.14 L145.71,658.49 L146.13,658.83 L146.54,659.18 L146.96,659.52 L147.37,659.87 L147.79,660.22 L148.20,660.56 L148.62,660.91 L149.04,661.26 L149.45,661.61 L149.87,661.96 L150.28,662.31 L150.70,662.66 L151.11,663.01 L151.53,663.36 L151.94,663.72 L152.36,664.07 L152.77,664.42 L153.18,664.78 L153.60,665.13 L154.01,665.49 L154.42,665.85 L154.83,666.20 L155.24,666.56 L155.66,666.92 L156.06,667.28 L156.47,667.64 L156.88,668.00 L157.29,668.37 L157.70,668.73 L158.10,669.09 L158.51,669.46 L158.91,669.83 L159.31,670.19 L159.71,670.56 L160.11,670.93 L160.51,671.30 L160.91,671.67 L161.31,672.05 L161.70,672.42 L162.10,672.80 L162.49,673.17 L162.88,673.55 L163.27,673.93 L163.66,674.31 L164.05,674.69 L164.43,675.07 L164.81,675.46 L165.20,675.84 L165.58,676.23 L165.96,676.61 L166.33,677.00 L166.71,677.39 L167.08,677.79 L167.45,678.18 L167.82,678.57 L168.19,678.97 L168.55,679.37 L168.92,679.77 L169.28,680.17 L169.64,680.57 L169.99,680.97 L170.35,681.38 L170.70,681.79 L171.05,682.19 L171.39,682.60 L171.74,683.02 L172.08,683.43 L172.42,683.85 L172.76,684.26 L173.09,684.68 L173.43,685.10 L173.76,685.52 L174.08,685.95 L174.41,686.37 L174.73,686.80 L175.05,687.23 L175.36,687.66 L175.67,688.10 L175.98,688.53 L176.29,688.97 L176.59,689.41 L176.90,689.85 L177.19,690.30 L177.49,690.74 L177.78,691.19 L178.07,691.64 L178.35,692.09 L178.63,692.54 L178.91,693.00 L179.18,693.46 L179.46,693.92 L179.72,694.38 L179.99,694.84 L180.25,695.31 L180.51,695.78 L180.77,696.25 L181.02,696.72 L181.27,697.19 L181.52,697.67 L181.77,698.14 L182.01,698.62 L182.25,699.10 L182.49,699.58 L182.73,700.06 L182.96,700.55 L183.19,701.03 L183.42,701.52 L183.65,702.01 L183.87,702.50 L184.09,702.99 L184.31,703.48 L184.53,703.97 L184.75,704.46 L184.96,704.96 L185.18,705.46 L185.39,705.95 L185.60,706.45 L185.80,706.95 L186.01,707.45 L186.21,707.95 L186.42,708.45 L186.62,708.96 L186.82,709.46 L187.02,709.97 L187.22,710.47 L187.41,710.98 L187.61,711.48 L187.80,711.99 L187.99,712.50 L188.19,713.00 L188.38,713.51 L188.57,714.02 L188.76,714.53 L188.94,715.04 L189.13,715.55 L189.32,716.06 L189.51,716.57 L189.69,717.08 L189.88,717.59 L190.06,718.11 L190.25,718.62 L190.43,719.13 L190.62,719.64 L190.80,720.15 L190.98,720.66 L191.17,721.17 L191.35,721.68 L191.53,722.19 L191.72,722.70 L191.90,723.22 L192.08,723.73 L192.27,724.24 L192.45,724.75 L192.63,725.26 L192.82,725.77 L193.00,726.28 L193.18,726.78 L193.36,727.29 L193.55,727.80 L193.73,728.31 L193.91,728.82 L194.09,729.33 L194.27,729.84 L194.45,730.35 L194.63,730.86 L194.82,731.37 L195.00,731.88 L195.18,732.38 L195.35,732.89 L195.53,733.40 L195.71,733.91 L195.89,734.42 L196.07,734.93 L196.25,735.44 L196.42,735.95 L196.60,736.46 L196.78,736.97 L196.95,737.47 L197.13,737.98 L197.30,738.49 L197.47,739.00 L197.65,739.51 L197.82,740.02 L197.99,740.53 L198.16,741.04 L198.33,741.55 L198.50,742.06 L198.67,742.57 L198.84,743.08 L199.00,743.59 L199.17,744.11 L199.34,744.62 L199.50,745.13 L199.67,745.64 L199.83,746.15 L199.99,746.66 L200.15,747.18 L200.31,747.69 L200.47,748.20 L200.63,748.71 L200.79,749.23 L200.95,749.74 L201.10,750.26 L201.26,750.77 L201.41,751.28 L201.56,751.80 L201.71,752.31 L201.86,752.83 L202.01,753.35 L202.16,753.86 L202.31,754.38 L202.45,754.90 L202.60,755.41 L202.74,755.93 L202.88,756.45 L203.02,756.97 L203.16,757.49 L203.30,758.01 L203.44,758.53 L203.57,759.05 L203.71,759.57 L203.84,760.09 L203.97,760.61 L204.10,761.13 L204.23,761.66 L204.36,762.18 L204.48,762.70 L204.61,763.23 L204.73,763.75 L204.85,764.28 L204.97,764.80 L205.09,765.33 L205.20,765.86 L205.32,766.38 L205.43,766.91 L205.54,767.44 L205.65,767.97 L205.76,768.50 L205.87,769.03 L205.97,769.56 L206.08,770.09 L206.18,770.63 L206.28,771.16 L206.37,771.69 L206.47,772.23 L206.57,772.76 L206.66,773.30 L206.75,773.84 L206.84,774.37 L206.92,774.91 L207.01,775.45 L207.09,775.99 L207.17,776.53" fill="none" stroke="#ff0000" stroke-linecap="round" stroke-linejoin="round" stroke-width="2.3" stroke-dasharray="12.4 4.6"/>
<path d="M112.90,592.00 L113.04,592.98 L113.12,593.95 L113.17,594.93 L113.19,595.90 L113.19,596.86 L113.21,597.83 L113.24,598.80 L113.31,599.77 L113.42,600.74 L113.61,601.71 L113.87,602.67 L114.23,603.59 L114.70,604.44 L115.29,605.18 L116.02,605.78 L116.87,606.23 L117.82,606.54 L118.79,606.79 L119.75,607.00 L120.71,607.19 L121.66,607.34 L122.62,607.48 L123.58,607.59 L124.55,607.70 L125.52,607.80 L126.49,607.89 L127.47,607.98 L128.44,608.07 L129.41,608.16 L130.38,608.26 L131.35,608.35 L132.33,608.44 L133.30,608.54 L134.27,608.63 L135.24,608.73 L136.21,608.82 L137.18,608.92 L138.15,609.02 L139.12,609.12 L140.09,609.21 L141.06,609.31 L142.03,609.41 L143.00,609.51 L143.97,609.61 L144.93,609.71 L145.90,609.81 L146.87,609.91 L147.84,610.02 L148.81,610.12 L149.77,610.22 L150.74,610.33 L151.71,610.43 L152.67,610.54 L153.64,610.64 L154.61,610.75 L155.57,610.86 L156.54,610.97 L157.51,611.07 L158.47,611.18 L159.44,611.29 L160.40,611.40 L161.37,611.51 L162.33,611.62 L163.30,611.74 L164.26,611.85 L165.23,611.96 L166.19,612.08 L167.16,612.19 L168.12,612.31 L169.09,612.42 L170.05,612.54 L171.01,612.66 L171.98,612.77 L172.94,612.89 L173.90,613.01 L174.87,613.13 L175.83,613.25 L176.79,613.37 L177.76,613.50 L178.72,613.62 L179.68,613.74 L180.65,613.87 L181.61,613.99 L182.57,614.12 L183.53,614.24 L184.50,614.37 L185.46,614.50 L186.42,614.63 L187.38,614.76 L188.34,614.89 L189.31,615.02 L190.27,615.15 L191.23,615.28 L192.19,615.41 L193.15,615.55 L194.11,615.68 L195.08,615.82 L196.04,615.95 L197.00,616.09 L197.96,616.23 L198.92,616.36 L199.88,616.50 L200.84,616.64 L201.81,616.78 L202.77,616.93 L203.73,617.07 L204.69,617.21 L205.65,617.36 L206.61,617.50 L207.57,617.65 L208.53,617.79 L209.50,617.94 L210.46,618.09 L211.42,618.24 L212.38,618.39 L213.34,618.54 L214.30,618.69 L215.26,618.84 L216.22,618.99 L217.18,619.15 L218.15,619.30 L219.11,619.46 L220.07,619.61 L221.03,619.77 L221.99,619.93 L222.95,620.09 L223.91,620.25 L224.88,620.41 L225.84,620.57 L226.80,620.73 L227.76,620.90 L228.72,621.06 L229.68,621.23 L230.65,621.39 L231.61,621.56 L232.57,621.73 L233.53,621.90 L234.49,622.07 L235.46,622.24 L236.42,622.41 L237.38,622.59 L238.34,622.76 L239.30,622.94 L240.26,623.12 L241.22,623.29 L242.18,623.47 L243.15,623.66 L244.11,623.84 L245.07,624.02 L246.03,624.21 L246.99,624.39 L247.95,624.58 L248.91,624.77 L249.86,624.96 L250.82,625.16 L251.78,625.35 L252.74,625.55 L253.70,625.75 L254.65,625.95 L255.61,626.15 L256.57,626.35 L257.52,626.55 L258.48,626.76 L259.43,626.97 L260.39,627.18 L261.34,627.39 L262.30,627.61 L263.25,627.82 L264.20,628.04 L265.16,628.26 L266.11,628.48 L267.06,628.71 L268.01,628.93 L268.96,629.16 L269.91,629.39 L270.85,629.62 L271.80,629.86 L272.75,630.09 L273.70,630.33 L274.64,630.58 L275.59,630.82 L276.53,631.07 L277.47,631.31 L278.41,631.57 L279.36,631.82 L280.30,632.07 L281.24,632.33 L282.18,632.59 L283.11,632.86 L284.05,633.12 L284.99,633.39 L285.92,633.66 L286.86,633.94 L287.79,634.21 L288.72,634.49 L289.65,634.77 L290.59,635.06 L291.51,635.35 L292.44,635.64 L293.37,635.93 L294.30,636.23 L295.22,636.53 L296.15,636.83 L297.07,637.13 L297.99,637.44 L298.91,637.75 L299.83,638.07 L300.75,638.39 L301.67,638.71 L302.58,639.03 L303.50,639.36 L304.41,639.69 L305.32,640.02 L306.23,640.36 L307.14,640.70 L308.05,641.04 L308.96,641.39 L309.86,641.74 L310.76,642.09 L311.67,642.45 L312.57,642.81 L313.47,643.17 L314.37,643.54 L315.26,643.91 L316.16,644.29 L317.05,644.66 L317.94,645.05 L318.83,645.43 L319.72,645.82 L320.61,646.21 L321.50,646.61 L322.38,647.01 L323.26,647.42 L324.14,647.82 L325.02,648.24 L325.90,648.65 L326.78,649.07 L327.65,649.50 L328.53,649.93 L329.40,650.36 L330.27,650.79 L331.13,651.23 L332.00,651.68 L332.86,652.13 L333.72,652.58 L334.58,653.04 L335.44,653.50 L336.30,653.96 L337.15,654.43 L338.01,654.91 L338.86,655.39 L339.71,655.87 L340.55,656.36 L341.40,656.85 L342.24,657.34 L343.08,657.85 L343.92,658.35 L344.76,658.86 L345.59,659.38 L346.42,659.89 L347.25,660.42 L348.08,660.95 L348.90,661.48 L349.72,662.02 L350.53,662.56 L351.35,663.11 L352.16,663.66 L352.96,664.22 L353.76,664.78 L354.56,665.35 L355.35,665.93 L356.14,666.50 L356.93,667.09 L357.71,667.68 L358.48,668.27 L359.25,668.87 L360.02,669.48 L360.78,670.09 L361.53,670.70 L362.28,671.32 L363.03,671.95 L363.76,672.58 L364.50,673.22 L365.22,673.87 L365.94,674.52 L366.66,675.17 L367.36,675.83 L368.06,676.50 L368.76,677.17 L369.44,677.85 L370.12,678.54 L370.79,679.23 L371.46,679.92 L372.12,680.63 L372.77,681.34 L373.41,682.05 L374.04,682.77 L374.67,683.50 L375.29,684.23 L375.90,684.97 L376.50,685.72 L377.09,686.47 L377.67,687.23 L378.25,688.00 L378.82,688.77 L379.37,689.55 L379.92,690.34 L380.46,691.13 L380.98,691.93 L381.50,692.74 L382.01,693.55 L382.51,694.37 L383.00,695.19 L383.48,696.03 L383.94,696.87 L384.40,697.72 L384.84,698.57 L385.28,699.43 L385.70,700.30 L386.12,701.18 L386.52,702.06 L386.91,702.95 L387.29,703.84 L387.67,704.74 L388.03,705.65 L388.39,706.56 L388.73,707.48 L389.07,708.40 L389.40,709.32 L389.72,710.25 L390.03,711.19 L390.34,712.13 L390.63,713.07 L390.92,714.02 L391.21,714.97 L391.49,715.92 L391.76,716.87 L392.02,717.83 L392.28,718.79 L392.54,719.76 L392.78,720.72 L393.03,721.69 L393.27,722.66 L393.50,723.62 L393.73,724.60 L393.96,725.57 L394.18,726.54 L394.40,727.51 L394.61,728.48 L394.82,729.45 L395.03,730.43 L395.24,731.40 L395.45,732.37 L395.65,733.34 L395.85,734.30 L396.05,735.27 L396.25,736.24 L396.45,737.20 L396.64,738.16 L396.84,739.12 L397.04,740.07 L397.23,741.02 L397.43,741.97 L397.63,742.92 L397.83,743.87 L398.02,744.81 L398.22,745.75 L398.41,746.69 L398.60,747.62 L398.80,748.56 L398.99,749.49 L399.17,750.43 L399.36,751.36 L399.54,752.30 L399.72,753.23 L399.89,754.16 L400.07,755.10 L400.23,756.04 L400.40,756.97 L400.56,757.91 L400.71,758.86 L400.86,759.80 L401.01,760.75 L401.15,761.70 L401.28,762.65 L401.41,763.60 L401.53,764.56 L401.64,765.53 L401.75,766.50 L401.84,767.47 L401.94,768.44 L402.02,769.43 L402.10,770.41 L402.16,771.41 L402.22,772.41 L402.27,773.41 L402.31,774.42 L402.34,775.44 L402.36,776.47" fill="none" stroke="#00ff00" stroke-linecap="round" stroke-linejoin="round" stroke-width="2.3" stroke-dasharray="28.0 4.1"/>
<path d="M112.70,591.50 L112.84,592.17 L112.87,592.91 L112.84,593.69 L112.80,594.50 L112.77,595.31 L112.82,596.09 L112.98,596.83 L113.28,597.49 L113.74,598.05 L114.34,598.47 L115.03,598.76 L115.77,598.94 L116.52,599.06 L117.27,599.12 L118.03,599.16 L118.79,599.20 L119.54,599.24 L120.30,599.28 L121.05,599.32 L121.81,599.37 L122.56,599.41 L123.32,599.45 L124.07,599.50 L124.82,599.54 L125.58,599.59 L126.33,599.63 L127.08,599.68 L127.84,599.73 L128.59,599.77 L129.34,599.82 L130.09,599.87 L130.85,599.92 L131.60,599.97 L132.35,600.02 L133.10,600.07 L133.85,600.12 L134.61,600.17 L135.36,600.22 L136.11,600.27 L136.86,600.32 L137.61,600.37 L138.36,600.42 L139.11,600.47 L139.86,600.52 L140.62,600.57 L141.37,600.62 L142.12,600.67 L142.87,600.72 L143.62,600.77 L144.37,600.82 L145.12,600.87 L145.87,600.92 L146.62,600.97 L147.37,601.02 L148.13,601.07 L148.88,601.11 L149.63,601.16 L150.38,601.21 L151.13,601.26 L151.88,601.30 L152.64,601.35 L153.39,601.39 L154.14,601.44 L154.89,601.48 L155.65,601.53 L156.40,601.57 L157.15,601.61 L157.91,601.66 L158.66,601.70 L159.41,601.74 L160.16,601.78 L160.92,601.82 L161.67,601.87 L162.43,601.91 L163.18,601.95 L163.93,601.99 L164.69,602.03 L165.44,602.07 L166.19,602.11 L166.95,602.15 L167.70,602.19 L168.46,602.23 L169.21,602.27 L169.96,602.31 L170.72,602.35 L171.47,602.39 L172.23,602.43 L172.98,602.47 L173.73,602.51 L174.49,602.55 L175.24,602.59 L176.00,602.63 L176.75,602.67 L177.51,602.71 L178.26,602.75 L179.01,602.79 L179.77,602.84 L180.52,602.88 L181.28,602.92 L182.03,602.96 L182.78,603.01 L183.54,603.05 L184.29,603.09 L185.05,603.14 L185.80,603.18 L186.55,603.23 L187.31,603.27 L188.06,603.32 L188.81,603.36 L189.57,603.41 L190.32,603.46 L191.07,603.50 L191.83,603.55 L192.58,603.60 L193.33,603.65 L194.09,603.70 L194.84,603.75 L195.59,603.80 L196.34,603.86 L197.10,603.91 L197.85,603.96 L198.60,604.01 L199.35,604.07 L200.10,604.12 L200.86,604.18 L201.61,604.23 L202.36,604.29 L203.11,604.35 L203.86,604.40 L204.61,604.46 L205.37,604.52 L206.12,604.58 L206.87,604.63 L207.62,604.69 L208.37,604.75 L209.12,604.81 L209.87,604.87 L210.62,604.93 L211.38,604.99 L212.13,605.06 L212.88,605.12 L213.63,605.18 L214.38,605.24 L215.13,605.30 L215.88,605.37 L216.63,605.43 L217.38,605.49 L218.13,605.56 L218.88,605.62 L219.63,605.69 L220.38,605.75 L221.13,605.82 L221.89,605.88 L222.64,605.95 L223.39,606.01 L224.14,606.08 L224.89,606.14 L225.64,606.21 L226.39,606.28 L227.14,606.34 L227.89,606.41 L228.64,606.48 L229.39,606.54 L230.14,606.61 L230.89,606.68 L231.64,606.75 L232.39,606.81 L233.14,606.88 L233.89,606.95 L234.64,607.02 L235.39,607.08 L236.14,607.15 L236.89,607.22 L237.64,607.29 L238.39,607.36 L239.14,607.43 L239.89,607.49 L240.65,607.56 L241.40,607.63 L242.15,607.70 L242.90,607.77 L243.65,607.84 L244.40,607.90 L245.15,607.97 L245.90,608.04 L246.65,608.11 L247.40,608.18 L248.15,608.24 L248.90,608.31 L249.65,608.38 L250.41,608.45 L251.16,608.52 L251.91,608.58 L252.66,608.65 L253.41,608.72 L254.16,608.79 L254.91,608.85 L255.66,608.92 L256.42,608.99 L257.17,609.06 L257.92,609.12 L258.67,609.19 L259.42,609.26 L260.17,609.33 L260.92,609.40 L261.68,609.46 L262.43,609.53 L263.18,609.60 L263.93,609.67 L264.68,609.74 L265.43,609.80 L266.19,609.87 L266.94,609.94 L267.69,610.01 L268.44,610.08 L269.19,610.15 L269.94,610.22 L270.70,610.29 L271.45,610.35 L272.20,610.42 L272.95,610.49 L273.70,610.56 L274.45,610.63 L275.21,610.70 L275.96,610.77 L276.71,610.84 L277.46,610.91 L278.21,610.98 L278.96,611.06 L279.72,611.13 L280.47,611.20 L281.22,611.27 L281.97,611.34 L282.72,611.41 L283.47,611.49 L284.22,611.56 L284.98,611.63 L285.73,611.71 L286.48,611.78 L287.23,611.85 L287.98,611.93 L288.73,612.00 L289.48,612.08 L290.24,612.15 L290.99,612.23 L291.74,612.30 L292.49,612.38 L293.24,612.45 L293.99,612.53 L294.74,612.61 L295.49,612.68 L296.24,612.76 L296.99,612.84 L297.75,612.92 L298.50,613.00 L299.25,613.08 L300.00,613.16 L300.75,613.24 L301.50,613.32 L302.25,613.40 L303.00,613.48 L303.75,613.56 L304.50,613.64 L305.25,613.73 L306.00,613.81 L306.75,613.89 L307.50,613.98 L308.25,614.06 L309.00,614.15 L309.75,614.23 L310.50,614.32 L311.25,614.40 L312.00,614.49 L312.75,614.58 L313.50,614.67 L314.25,614.75 L315.00,614.84 L315.75,614.93 L316.50,615.02 L317.24,615.11 L317.99,615.21 L318.74,615.30 L319.49,615.39 L320.24,615.48 L320.99,615.58 L321.74,615.67 L322.48,615.77 L323.23,615.86 L323.98,615.96 L324.73,616.05 L325.48,616.15 L326.22,616.25 L326.97,616.35 L327.72,616.45 L328.47,616.55 L329.21,616.65 L329.96,616.75 L330.71,616.85 L331.46,616.95 L332.20,617.06 L332.95,617.16 L333.70,617.27 L334.44,617.37 L335.19,617.48 L335.94,617.58 L336.68,617.69 L337.43,617.80 L338.17,617.91 L338.92,618.02 L339.66,618.13 L340.41,618.24 L341.16,618.35 L341.90,618.47 L342.65,618.58 L343.39,618.70 L344.14,618.81 L344.88,618.93 L345.63,619.04 L346.37,619.16 L347.11,619.28 L347.86,619.40 L348.60,619.52 L349.35,619.64 L350.09,619.76 L350.83,619.89 L351.58,620.01 L352.32,620.14 L353.06,620.26 L353.80,620.39 L354.55,620.51 L355.29,620.64 L356.03,620.77 L356.77,620.90 L357.52,621.03 L358.26,621.17 L359.00,621.30 L359.74,621.43 L360.48,621.57 L361.22,621.70 L361.96,621.84 L362.71,621.98 L363.45,622.12 L364.19,622.26 L364.93,622.40 L365.67,622.54 L366.41,622.68 L367.15,622.82 L367.89,622.97 L368.63,623.12 L369.36,623.26 L370.10,623.41 L370.84,623.56 L371.58,623.71 L372.32,623.86 L373.06,624.01 L373.79,624.17 L374.53,624.32 L375.27,624.48 L376.01,624.63 L376.74,624.79 L377.48,624.95 L378.22,625.11 L378.95,625.27 L379.69,625.43 L380.43,625.59 L381.16,625.76 L381.90,625.92 L382.63,626.09 L383.37,626.26 L384.10,626.43 L384.84,626.60 L385.57,626.77 L386.31,626.94 L387.04,627.12 L387.77,627.29 L388.51,627.47 L389.24,627.64 L389.97,627.82 L390.71,628.00 L391.44,628.18 L392.17,628.37 L392.90,628.55 L393.64,628.74 L394.37,628.92 L395.10,629.11 L395.83,629.30 L396.56,629.49 L397.29,629.68 L398.02,629.87 L398.75,630.07 L399.48,630.26 L400.21,630.46 L400.94,630.66 L401.67,630.86 L402.40,631.06 L403.13,631.26 L403.86,631.46 L404.59,631.67" fill="none" stroke="#0000ff" stroke-linecap="round" stroke-linejoin="round" stroke-width="2.3" stroke-dasharray="13.0 18.6" stroke-dashoffset="0.0"/><path d="M112.70,591.50 L112.84,592.17 L112.87,592.91 L112.84,593.69 L112.80,594.50 L112.77,595.31 L112.82,596.09 L112.98,596.83 L113.28,597.49 L113.74,598.05 L114.34,598.47 L115.03,598.76 L115.77,598.94 L116.52,599.06 L117.27,599.12 L118.03,599.16 L118.79,599.20 L119.54,599.24 L120.30,599.28 L121.05,599.32 L121.81,599.37 L122.56,599.41 L123.32,599.45 L124.07,599.50 L124.82,599.54 L125.58,599.59 L126.33,599.63 L127.08,599.68 L127.84,599.73 L128.59,599.77 L129.34,599.82 L130.09,599.87 L130.85,599.92 L131.60,599.97 L132.35,600.02 L133.10,600.07 L133.85,600.12 L134.61,600.17 L135.36,600.22 L136.11,600.27 L136.86,600.32 L137.61,600.37 L138.36,600.42 L139.11,600.47 L139.86,600.52 L140.62,600.57 L141.37,600.62 L142.12,600.67 L142.87,600.72 L143.62,600.77 L144.37,600.82 L145.12,600.87 L145.87,600.92 L146.62,600.97 L147.37,601.02 L148.13,601.07 L148.88,601.11 L149.63,601.16 L150.38,601.21 L151.13,601.26 L151.88,601.30 L152.64,601.35 L153.39,601.39 L154.14,601.44 L154.89,601.48 L155.65,601.53 L156.40,601.57 L157.15,601.61 L157.91,601.66 L158.66,601.70 L159.41,601.74 L160.16,601.78 L160.92,601.82 L161.67,601.87 L162.43,601.91 L163.18,601.95 L163.93,601.99 L164.69,602.03 L165.44,602.07 L166.19,602.11 L166.95,602.15 L167.70,602.19 L168.46,602.23 L169.21,602.27 L169.96,602.31 L170.72,602.35 L171.47,602.39 L172.23,602.43 L172.98,602.47 L173.73,602.51 L174.49,602.55 L175.24,602.59 L176.00,602.63 L176.75,602.67 L177.51,602.71 L178.26,602.75 L179.01,602.79 L179.77,602.84 L180.52,602.88 L181.28,602.92 L182.03,602.96 L182.78,603.01 L183.54,603.05 L184.29,603.09 L185.05,603.14 L185.80,603.18 L186.55,603.23 L187.31,603.27 L188.06,603.32 L188.81,603.36 L189.57,603.41 L190.32,603.46 L191.07,603.50 L191.83,603.55 L192.58,603.60 L193.33,603.65 L194.09,603.70 L194.84,603.75 L195.59,603.80 L196.34,603.86 L197.10,603.91 L197.85,603.96 L198.60,604.01 L199.35,604.07 L200.10,604.12 L200.86,604.18 L201.61,604.23 L202.36,604.29 L203.11,604.35 L203.86,604.40 L204.61,604.46 L205.37,604.52 L206.12,604.58 L206.87,604.63 L207.62,604.69 L208.37,604.75 L209.12,604.81 L209.87,604.87 L210.62,604.93 L211.38,604.99 L212.13,605.06 L212.88,605.12 L213.63,605.18 L214.38,605.24 L215.13,605.30 L215.88,605.37 L216.63,605.43 L217.38,605.49 L218.13,605.56 L218.88,605.62 L219.63,605.69 L220.38,605.75 L221.13,605.82 L221.89,605.88 L222.64,605.95 L223.39,606.01 L224.14,606.08 L224.89,606.14 L225.64,606.21 L226.39,606.28 L227.14,606.34 L227.89,606.41 L228.64,606.48 L229.39,606.54 L230.14,606.61 L230.89,606.68 L231.64,606.75 L232.39,606.81 L233.14,606.88 L233.89,606.95 L234.64,607.02 L235.39,607.08 L236.14,607.15 L236.89,607.22 L237.64,607.29 L238.39,607.36 L239.14,607.43 L239.89,607.49 L240.65,607.56 L241.40,607.63 L242.15,607.70 L242.90,607.77 L243.65,607.84 L244.40,607.90 L245.15,607.97 L245.90,608.04 L246.65,608.11 L247.40,608.18 L248.15,608.24 L248.90,608.31 L249.65,608.38 L250.41,608.45 L251.16,608.52 L251.91,608.58 L252.66,608.65 L253.41,608.72 L254.16,608.79 L254.91,608.85 L255.66,608.92 L256.42,608.99 L257.17,609.06 L257.92,609.12 L258.67,609.19 L259.42,609.26 L260.17,609.33 L260.92,609.40 L261.68,609.46 L262.43,609.53 L263.18,609.60 L263.93,609.67 L264.68,609.74 L265.43,609.80 L266.19,609.87 L266.94,609.94 L267.69,610.01 L268.44,610.08 L269.19,610.15 L269.94,610.22 L270.70,610.29 L271.45,610.35 L272.20,610.42 L272.95,610.49 L273.70,610.56 L274.45,610.63 L275.21,610.70 L275.96,610.77 L276.71,610.84 L277.46,610.91 L278.21,610.98 L278.96,611.06 L279.72,611.13 L280.47,611.20 L281.22,611.27 L281.97,611.34 L282.72,611.41 L283.47,611.49 L284.22,611.56 L284.98,611.63 L285.73,611.71 L286.48,611.78 L287.23,611.85 L287.98,611.93 L288.73,612.00 L289.48,612.08 L290.24,612.15 L290.99,612.23 L291.74,612.30 L292.49,612.38 L293.24,612.45 L293.99,612.53 L294.74,612.61 L295.49,612.68 L296.24,612.76 L296.99,612.84 L297.75,612.92 L298.50,613.00 L299.25,613.08 L300.00,613.16 L300.75,613.24 L301.50,613.32 L302.25,613.40 L303.00,613.48 L303.75,613.56 L304.50,613.64 L305.25,613.73 L306.00,613.81 L306.75,613.89 L307.50,613.98 L308.25,614.06 L309.00,614.15 L309.75,614.23 L310.50,614.32 L311.25,614.40 L312.00,614.49 L312.75,614.58 L313.50,614.67 L314.25,614.75 L315.00,614.84 L315.75,614.93 L316.50,615.02 L317.24,615.11 L317.99,615.21 L318.74,615.30 L319.49,615.39 L320.24,615.48 L320.99,615.58 L321.74,615.67 L322.48,615.77 L323.23,615.86 L323.98,615.96 L324.73,616.05 L325.48,616.15 L326.22,616.25 L326.97,616.35 L327.72,616.45 L328.47,616.55 L329.21,616.65 L329.96,616.75 L330.71,616.85 L331.46,616.95 L332.20,617.06 L332.95,617.16 L333.70,617.27 L334.44,617.37 L335.19,617.48 L335.94,617.58 L336.68,617.69 L337.43,617.80 L338.17,617.91 L338.92,618.02 L339.66,618.13 L340.41,618.24 L341.16,618.35 L341.90,618.47 L342.65,618.58 L343.39,618.70 L344.14,618.81 L344.88,618.93 L345.63,619.04 L346.37,619.16 L347.11,619.28 L347.86,619.40 L348.60,619.52 L349.35,619.64 L350.09,619.76 L350.83,619.89 L351.58,620.01 L352.32,620.14 L353.06,620.26 L353.80,620.39 L354.55,620.51 L355.29,620.64 L356.03,620.77 L356.77,620.90 L357.52,621.03 L358.26,621.17 L359.00,621.30 L359.74,621.43 L360.48,621.57 L361.22,621.70 L361.96,621.84 L362.71,621.98 L363.45,622.12 L364.19,622.26 L364.93,622.40 L365.67,622.54 L366.41,622.68 L367.15,622.82 L367.89,622.97 L368.63,623.12 L369.36,623.26 L370.10,623.41 L370.84,623.56 L371.58,623.71 L372.32,623.86 L373.06,624.01 L373.79,624.17 L374.53,624.32 L375.27,624.48 L376.01,624.63 L376.74,624.79 L377.48,624.95 L378.22,625.11 L378.95,625.27 L379.69,625.43 L380.43,625.59 L381.16,625.76 L381.90,625.92 L382.63,626.09 L383.37,626.26 L384.10,626.43 L384.84,626.60 L385.57,626.77 L386.31,626.94 L387.04,627.12 L387.77,627.29 L388.51,627.47 L389.24,627.64 L389.97,627.82 L390.71,628.00 L391.44,628.18 L392.17,628.37 L392.90,628.55 L393.64,628.74 L394.37,628.92 L395.10,629.11 L395.83,629.30 L396.56,629.49 L397.29,629.68 L398.02,629.87 L398.75,630.07 L399.48,630.26 L400.21,630.46 L400.94,630.66 L401.67,630.86 L402.40,631.06 L403.13,631.26 L403.86,631.46 L404.59,631.67" fill="none" stroke="#0000ff" stroke-linecap="round" stroke-linejoin="round" stroke-width="2.7" stroke-dasharray="0.01 31.59" stroke-dashoffset="-22.9"/>
</svg>
</body></html>
